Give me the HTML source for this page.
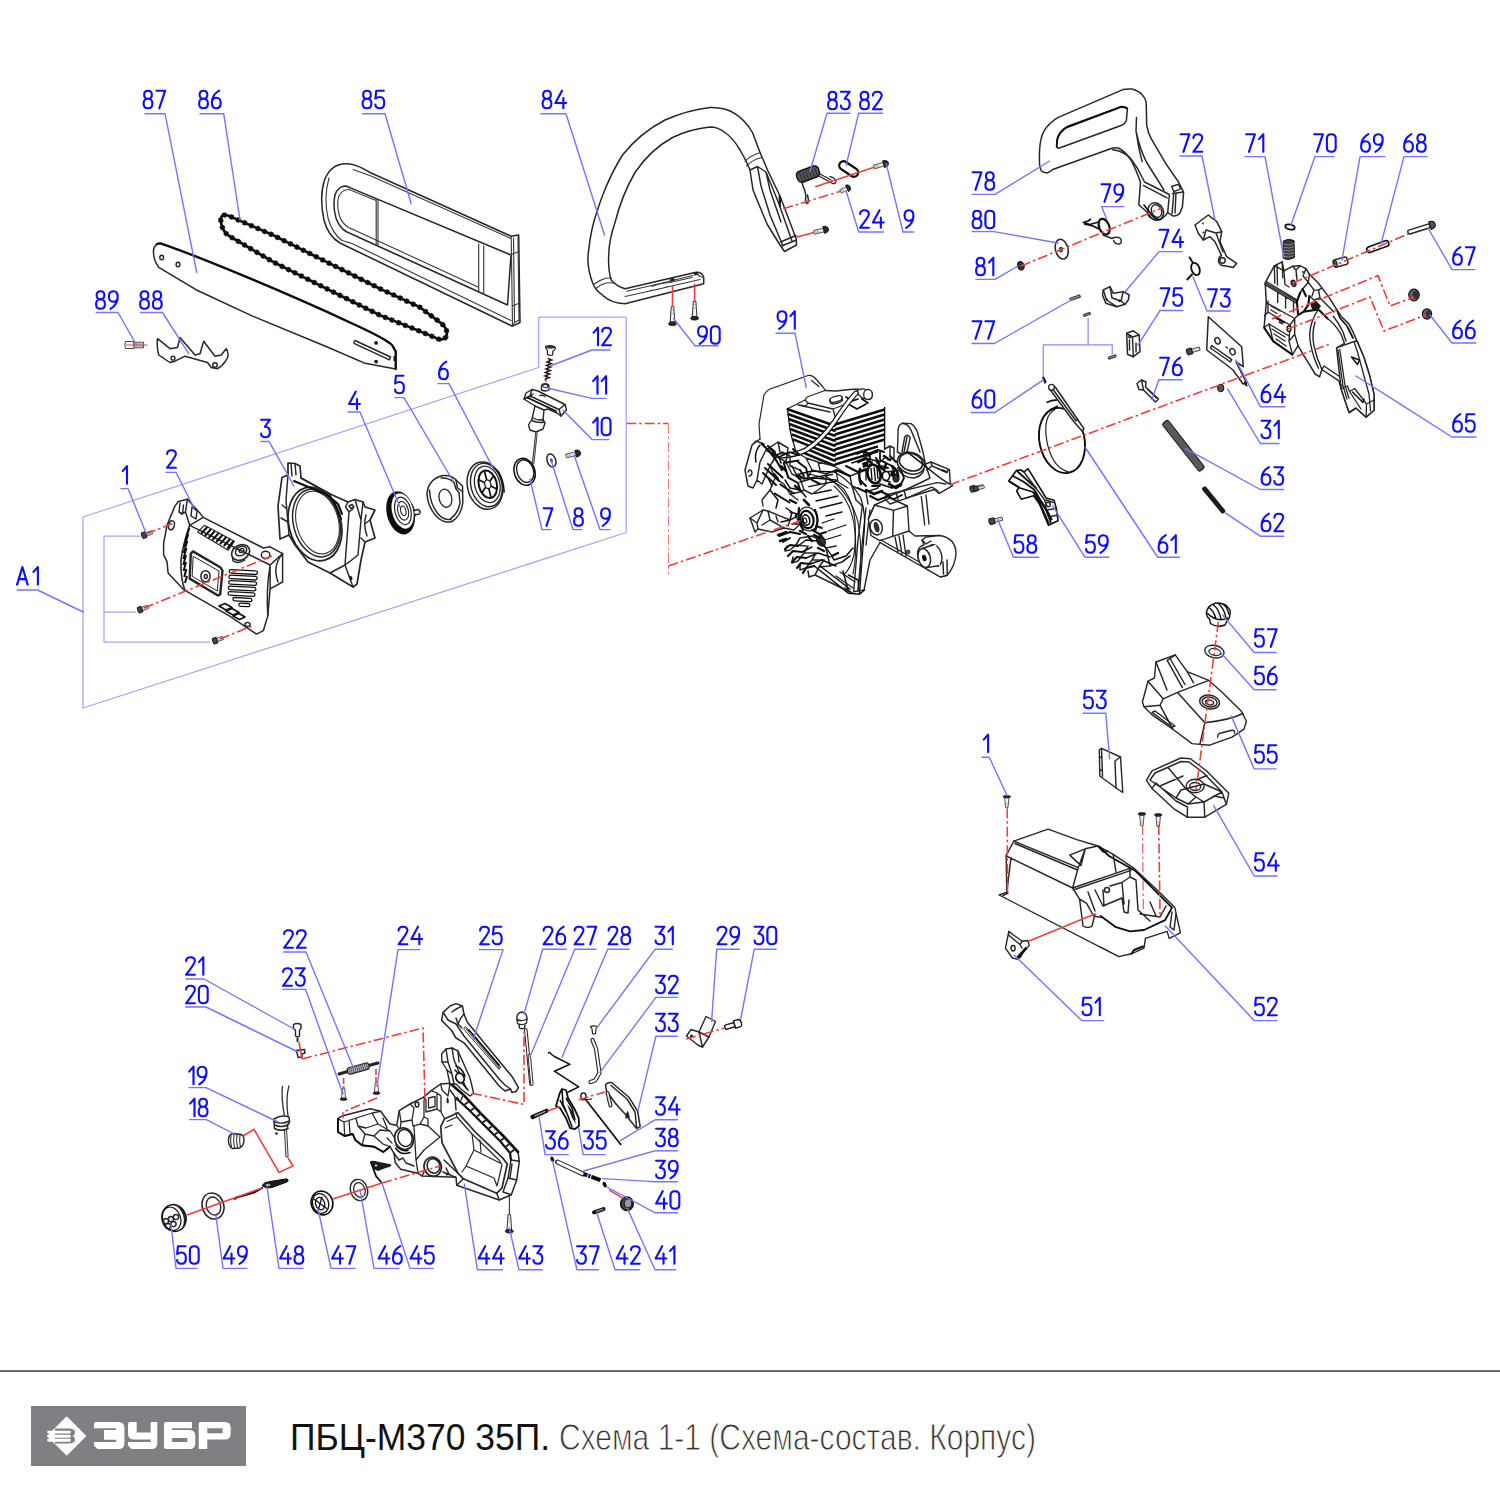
<!DOCTYPE html>
<html><head><meta charset="utf-8"><title>ПБЦ-М370 35П</title>
<style>
html,body{margin:0;padding:0;background:#fff;}
body{width:1500px;height:1500px;overflow:hidden;font-family:"Liberation Sans",sans-serif;}
svg{display:block;position:absolute;left:0;top:0;}
.dg path{vector-effect:non-scaling-stroke;fill:none;stroke:#0a0aff;stroke-linecap:round;stroke-linejoin:round;}
.ld{fill:none;stroke:#7474ff;stroke-width:1.4;stroke-linecap:round;stroke-linejoin:round;}
.ld2{fill:none;stroke:#a6a2ff;stroke-width:1.25;stroke-linejoin:round;}
.k{fill:none;stroke:#262626;stroke-width:1.45;stroke-linecap:round;stroke-linejoin:round;}
.kt{fill:none;stroke:#3a3a3a;stroke-width:1.15;stroke-linecap:round;stroke-linejoin:round;}
.kb{fill:none;stroke:#111;stroke-width:1.8;stroke-linecap:round;stroke-linejoin:round;}
.w{fill:#fff;stroke:#262626;stroke-width:1.5;stroke-linecap:round;stroke-linejoin:round;}
.f{fill:#1a1a1a;stroke:none;}
.r{fill:none;stroke:#f43c3c;stroke-width:1.6;stroke-dasharray:10 3 2.5 3;}
.rs{fill:none;stroke:#f43c3c;stroke-width:1.6;}
</style></head>
<body>
<svg width="1500" height="1500" viewBox="0 0 1500 1500">
<!-- 01_defs.svg -->
<defs>
<!-- small screw: shaft from x=0..10, head dome at 10..14 -->
<g id="scr">
<path d="M0,-1.9 H10.5 V1.9 H0 Z" fill="#e4e4e4" stroke="#444" stroke-width="0.8"/>
<path d="M2,-1.9 V1.9 M4,-1.9 V1.9" stroke="#777" stroke-width="0.5" fill="none"/>
<path d="M10,-3.6 Q15,-3.4 15,0 Q15,3.400 10,3.600 Z" fill="#2a2a2a" stroke="#111" stroke-width="0.8"/>
</g>
<!-- hex-head small bolt: head at left (dark), shaft right -->
<g id="hx">
<path d="M0,-1.7 H8 V1.7 H0 Z" fill="#ddd" stroke="#333" stroke-width="0.8"/>
<path d="M-5,-3 H0 V3 H-5 Q-6.5,0 -5,-3 Z" fill="#444" stroke="#111" stroke-width="0.9"/>
</g>
<g id="scr2">
<path d="M0,-1.300 L14,-2.300 L14,2.300 L0,1.300 Q-1,0 0,-1.300 Z" fill="#f4f4f4" stroke="#333" stroke-width="1"/>
<path d="M3,-1.400 V1.400 M6,-1.700 V1.700" stroke="#888" stroke-width="0.600" fill="none"/>
<ellipse cx="15.500" cy="0" rx="1.700" ry="4" fill="#2a2a2a" stroke="#111" stroke-width="0.800"/>
</g>
</defs>

<defs><filter id="soft" filterUnits="userSpaceOnUse" x="0" y="0" width="1500" height="1365"><feGaussianBlur stdDeviation="0.55"/></filter></defs>
<g filter="url(#soft)">
<!-- 10_topleft.svg -->
<g id="topleft">
<!-- guide bar 87 -->
<path class="w" d="M160.5,243.4 C200,257 290,294 364,329 Q385,339 392,345 L395.7,351.3 L395.7,369 L364,362.9 L326.7,346.7 L252,315.9 L196,289.7 L158.7,267.3 Q153,260 153.5,250 Q155,243 160.5,243.4 Z"/>
<path class="kb" d="M157,244 Q159,243 160.5,243.4 C200,257 290,294 364,329 Q385,339 392,345 L395.7,351.3 L395.7,369" style="stroke-width:2.300"/>
<ellipse class="k" cx="161.7" cy="257.5" rx="1.900" ry="2.300"/><ellipse class="k" cx="178" cy="264.5" rx="1.900" ry="2.300"/>
<path class="k" d="M355,340.500 L390.500,357 L389.500,359.800 L354,343.300 Q353.500,341.500 355,340.500 Z"/>
<circle class="f" cx="376.100" cy="342.900" r="1.900"/><circle class="f" cx="376.100" cy="361.600" r="1.900"/>
<path class="f" d="M393.500,356 h2.200 v5 h-2.200 z"/>

<!-- chain 86 -->
<g fill="none" stroke="#111" stroke-linejoin="round">
<path d="M221,222 Q219.500,213.500 228,215.5 L273.300,235.300 L326.700,262 L380,288.700 L420,307.300 L441.300,323.300 Q449,330 446,337 Q442,341.500 436,338 L420,331.300 L380,315.300 L326.700,288.700 L273.300,262 L228,235.300 Q222,230 221,222 Z" stroke-width="2.800"/>
<path d="M221,222 Q219.500,213.500 228,215.5 L273.300,235.300 L326.700,262 L380,288.700 L420,307.300 L441.300,323.300 Q449,330 446,337 Q442,341.500 436,338 L420,331.300 L380,315.300 L326.700,288.700 L273.300,262 L228,235.300 Q222,230 221,222 Z" stroke-width="5" stroke-dasharray="3.600 3.600"/>
</g>

<!-- scabbard 85 -->
<path class="w" d="M347.5,163.7 Q331,163 324.5,180 Q319,197 324,220 Q328,236 340,243 L512.5,326.2 L520,322.5 L518.7,235 L511.2,236.2 L370,172.5 Q356,164 347.5,163.7 Z"/>
<path class="w" d="M346,186 Q338,186 335,195 Q332.5,206 336,218 Q339,227 346,231.5 L507.5,305 L511,255 Z"/>
<path class="kt" d="M349,189.5 Q341.5,189.5 338.5,197 Q336.5,206 339.5,216 Q342,223.5 348.5,227.5 L376,240 L478,287"/>
<path class="kt" d="M376.2,198.7 V245 M378,199.5 V245.8 M478.7,243.7 V292 M483.7,245.8 V294.2 M349,189.500 L376,200.500"/>
<path class="kt" d="M353,169.500 L371,176 L511,238.500 M342,240.500 L352,243.500 L511,320.500 M511.2,236.2 L512.5,326.2 M513.5,238 L514.5,322 M518,237 L519,321 M511.5,254.5 L518.8,251.5 M512.3,306 L519.6,303 M512.500,326.200 L514.500,322.500 L520,319.500"/>
<path class="kt" d="M329,178 Q323.500,197 328,218 Q332,233 342,240.500"/>

<!-- handle 84 -->
<path class="w" d="M592.5,282.5 Q586,265 588.7,250 Q591,228 597.5,210 Q607,180 622.5,155 Q640,133 665,120 Q688,110 710,107.5 Q725,107 735,113.7 Q746,121 752.5,132.5 L760,152.5 L767.5,170 L780,196 L796.2,238.7 L796.5,245 L784.5,251.5 L780,245 L767,224 L753,190 L750,170 L746.2,161.2 L740,150 Q733,138 725,132.5 Q718,127 710,127 Q690,129 672.5,137.5 Q650,150 635,172.5 Q622,195 615,222.5 Q609,240 608.7,255 Q608,270 611.2,280 Q616,286 625,288.7 L695,272.5 Q702,271.5 703.7,277.5 L703.7,283.7 L625,303.7 Q610,303 602.5,295 Q595,290 592.5,282.5 Z"/>
<path class="kt" d="M593.5,284.5 Q602,277.5 611.5,278 M596,288.5 Q604,281.5 613.5,283 M745,161.5 Q750,155.5 760.5,152.5 M746.5,166 Q753,159 762.5,157.5 M625,296.5 L650,291 L700,279.5 M652,286.5 Q660,283 670,282.5 L692,277.5 M650,290.5 Q658,290 668,286.5"/>
<path class="k" d="M750,170 L757.5,166.5 L766,172 L779,204 L792,241 M757.5,166.5 L761,186 L770,215 L783,246 M766,172 L770,190 L781,222 M779,204 L781.5,199 M780.5,242 L796,235.5 M781.5,246 L796.5,240"/>
<path class="f" d="M778.5,196 L780.5,196 L781,207 L779,207 Z"/>
<path class="kt" d="M626.700,291.300 L660,283.500 L693,275.500 M670,279.500 L671,282 M696,272.500 L700,276.500 L703.700,277.500"/>
<path class="f" d="M670.500,278.800 l3.600,-0.900 l0.700,2.600 l-3.600,0.900 z M693.500,272.800 l3.400,-0.800 l0.900,2.800 l-3.400,0.800 z"/>
</g>

<!-- 11_handleparts.svg -->
<g id="handleparts">
<!-- 88 bumper spike -->
<path class="w" d="M157.5,338.7 L170,348.7 L177.5,347.5 L180,337.5 L195,355 L200,353.7 L203.7,341.2 L215,356.2 L221.2,355 L226.2,348.7 Q229,353 227.5,357.5 Q224,365 217.5,368.7 L211.2,367.5 L207.5,362.5 L185,356.2 L175,361.2 L170,362.5 L158.7,355 Q156.500,347 157.5,338.7 Z"/>
<circle class="k" cx="173" cy="358.2" r="1.900"/><circle class="k" cx="215" cy="365" r="2.300"/>
<!-- 89 bolt -->
<path d="M125.5,341.5 H134 V348.500 H125.5 Q124,345 125.5,341.5 Z" fill="#fff" stroke="#333" stroke-width="0.9"/>
<path d="M134,342.200 H143.500 V347.800 H134 Z" fill="#ddd" stroke="#333" stroke-width="0.8"/>
<path d="M136,342.200 V347.800 M138,342.200 V347.800 M140,342.200 V347.800 M142,342.200 V347.800" stroke="#666" stroke-width="0.600"/>
<path class="rs" d="M126,345 H147.5" style="stroke-width:1"/>
<!-- 90 screws -->
<g transform="translate(672.5,307) rotate(90) scale(1.080,1)"><use href="#scr2"/></g>
<g transform="translate(694.6,301.500) rotate(90) scale(1.080,1)"><use href="#scr2"/></g>
<path class="rs" d="M672.5,286 V307 M694.6,283.7 V301"/>
<!-- 83 spring -->
<path d="M796.7,176.500 Q795.500,172.500 800,171 L813.500,166 Q817.500,165.300 818.500,169 L819.500,172.500 Q820,175.500 816.500,177 L803.500,182 Q799.500,183 798,180 Z" fill="#555" stroke="#111" stroke-width="1.400"/>
<path d="M799.5,173 L803,182 M802.500,172 L806,181 M805.500,171 L809,180 M808.500,170 L812,179 M811.500,169 L815,177.800 M814.500,168 L817.800,176.500" stroke="#222" stroke-width="0.900" fill="none"/>
<path class="k" d="M802,182.7 Q803,187 804.7,190 Q806.500,196 805.500,200.500 Q806,204.500 808,203 Q809,199 807.500,195" style="stroke-width:1.500"/>
<path class="k" d="M818,175.500 L832.7,183.500 Q836,184 836,181 Q834,177.500 830,176.700 M820,174 L831,180" style="stroke-width:1.300"/>
<!-- 82 oval ring -->
<g transform="translate(848.700,169) rotate(34)"><rect x="-10.500" y="-4.300" width="21" height="8.600" rx="4.300" fill="none" stroke="#111" stroke-width="2.300"/></g>
<!-- screws 9, 24, lower -->
<g transform="translate(874,167) rotate(-16)"><use href="#scr"/></g>
<g transform="translate(840.500,191.500) rotate(-25) scale(0.72,1)"><use href="#scr"/></g>
<g transform="translate(814,232.400) rotate(-14)"><use href="#scr"/></g>
</g>

<!-- 12_guard.svg -->
<g id="guard">
<!-- 78 hand guard -->
<path class="w" d="M1039.6,165 Q1039,152 1040.2,143.5 Q1041.500,135 1044.7,129.9 Q1050,122 1058.3,117.4 L1122.9,89.6 Q1128,88.500 1132,89.1 Q1138,90.500 1142.2,94.7 Q1145.500,98 1146.2,102.7 L1146.7,125.3 Q1148,133 1151.3,138.9 L1166,163.9 L1178.5,182 L1183.6,192.2 L1182.4,206.9 L1179.6,213.7 Q1176,216.500 1172.8,216 L1167.7,212.6 Q1163,220 1156,220 Q1149,219 1147,212 L1138.8,204.7 L1140.5,182 L1136.5,171.8 L1132,161.6 Q1126,152 1118.4,148 L1112.7,148 L1052.7,169.5 Q1049.500,172.500 1047,172.9 Q1043,172.500 1041.3,170.7 Q1040,168 1039.6,165 Z"/>
<path class="w" d="M1056.6,146.9 Q1056.500,141 1057.8,136.7 Q1061,130 1067.4,126.5 L1120.7,106.6 Q1125,106.200 1127.5,108.3 L1126.3,120.8 Q1125,124 1121.8,125.3 L1059.5,148 Q1057.500,148.500 1056.6,146.9 Z"/>
<path class="kb" d="M1056.8,146.500 Q1056.500,141 1058,136.9 Q1061.200,130.500 1067.6,127 L1120.7,107.100 Q1124.500,106.800 1127,108.500" style="stroke-width:1.900"/>
<path class="k" d="M1136.5,117.4 L1136,131 L1138.8,148 L1142.2,161.6 M1112.7,149.7 Q1124,151 1131,159 Q1138,168 1142.2,177.5 L1144.5,182 L1169.4,194.5 L1167.7,212.6 M1143.3,185.4 L1167.1,197.9 M1136,131 Q1140,150 1147,163 L1164,190 M1171.7,186.5 L1178.5,184.3 L1180.7,188.8 L1173.9,191.6 Z M1172.500,193.500 L1183.200,192 M1173.900,191.600 L1172,214 M1176,192.800 L1175,213"/>
<ellipse class="w" cx="1155.8" cy="211.5" rx="7.500" ry="9" transform="rotate(-25 1155.8 211.5)" style="stroke-width:1.500"/>
<ellipse class="k" cx="1156.500" cy="211" rx="5" ry="6.500" transform="rotate(-25 1156.500 211)"/>
<path class="kb" d="M1144,205 L1151,214 Q1155,220 1161,219.500" style="stroke-width:1.600"/>
<!-- 81 nut -->
<ellipse cx="1020.8" cy="265.8" rx="3.300" ry="4.300" fill="#333" stroke="#111" stroke-width="1" transform="rotate(-20 1020.8 265.8)"/>
<!-- 80 washer -->
<ellipse class="w" cx="1061.7" cy="249.2" rx="6.300" ry="10" transform="rotate(-14 1061.7 249.2)"/>
<ellipse class="k" cx="1061" cy="249.500" rx="1.300" ry="2" />
<!-- 79 -->
<ellipse cx="1104.2" cy="226.7" rx="5" ry="8.200" fill="none" stroke="#111" stroke-width="2.200" transform="rotate(-22 1104.2 226.7)"/>
<path d="M1098.500,222 L1090,224.500 L1083.300,222.500 L1088,221 L1091,219 M1084,224 L1093,226 L1099,229" fill="none" stroke="#111" stroke-width="1.700" stroke-linejoin="round"/>
<path class="k" d="M1103,235 L1112,238.500 Q1117,236 1120.500,238.500 Q1122.500,242 1119.500,244 Q1115,244.500 1113.500,240.500" style="stroke-width:1.400"/>
<!-- 74 -->
<path class="w" d="M1103.300,290 L1110,286.700 L1113.300,293.300 L1123.300,291.700 L1129.200,295 L1128.300,300 L1125,304.200 L1116.700,306.700 L1105.800,303.300 L1102.500,295 Z"/>
<path class="k" d="M1110,286.700 L1112,298 L1121,301 L1125,304.200 M1103.300,290 L1106.500,300 L1116.700,306.700 M1121,301 L1123.300,291.700"/>
<circle class="f" cx="1107" cy="299.500" r="1"/><circle class="f" cx="1119.500" cy="301" r="1.200"/>
<!-- 77 + pins -->
<path d="M1070.500,300.700 L1080.500,297.200 L1079.700,294.800 L1069.700,298.300 Z" fill="#888" stroke="#222" stroke-width="0.900"/>
<path d="M1084,316.600 L1090.600,314.300 L1090,312.200 L1083.400,314.500 Z" fill="#888" stroke="#222" stroke-width="0.900"/>
<path d="M1108.800,359.300 L1116.200,356.800 L1115.600,354.700 L1108.200,357.200 Z" fill="#888" stroke="#222" stroke-width="0.900"/>
<path d="M1043.700,378 L1045.800,382.500" stroke="#222" stroke-width="1.800"/>
<!-- 75 block -->
<path class="w" d="M1126.7,333.3 L1133.3,330.8 L1139.2,335 L1140,351.7 L1133.300,356.7 L1127.5,354.200 Z"/>
<path class="k" d="M1126.700,333.300 L1132.500,337 L1139.200,335 M1132.500,337 L1133.300,356.700 M1136,343 V352 M1129.500,340 V350"/>
<circle class="k" cx="1130" cy="336.500" r="1.200"/>
<!-- 73 spring -->
<ellipse cx="1195.500" cy="269" rx="4" ry="6.400" fill="none" stroke="#111" stroke-width="1.800" transform="rotate(-20 1195.500 269)"/>
<path d="M1189.200,256.700 L1193,263 M1192.500,274 L1186.700,280" stroke="#111" stroke-width="1.800" fill="none"/>
<!-- 72 bracket -->
<path class="w" d="M1195,225 L1208.3,215 L1216.7,221.7 L1221.7,231.7 L1220,241.700 L1226.700,256.700 L1236.700,263.300 L1233.300,267.500 L1225,265.800 Q1219,266 1218.500,261 Q1218.500,257 1221.500,255.500 L1215,241.700 L1210,236.700 L1203.300,240 L1198.300,233.300 Z"/>
<path class="k" d="M1203.300,240 L1206,230 L1216,233 L1221.700,231.700 M1216,233 L1223,252"/>
<circle class="k" cx="1222.500" cy="260.500" r="2.700"/>
<circle class="f" cx="1203" cy="223.500" r="0.900"/><circle class="f" cx="1203.500" cy="232.500" r="0.900"/>
<!-- 76 lever -->
<path class="w" d="M1137,383.500 L1141.500,380 L1146,382 L1145.500,387 L1158.500,399 L1155.500,402 L1143.500,390 L1139,389.500 Z"/>
<path class="k" d="M1141.500,380 L1143.500,390 M1147,388.500 L1156.500,398"/>
<!-- screw near 76 -->
<g transform="translate(1192,350.800) rotate(-16)"><use href="#hx"/></g>
<!-- 64 plate -->
<path class="w" d="M1208.300,316.700 L1241.700,346.700 L1243.300,366.700 L1236,362 L1241,372 L1246.300,382.200 L1243,384 L1233,370 L1228,366 L1206.700,350 Z"/>
<ellipse class="k" cx="1217.500" cy="340.800" rx="2.500" ry="3.300" transform="rotate(-25 1217.500 340.800)"/>
<ellipse class="k" cx="1232.500" cy="351.700" rx="2.500" ry="3.300" transform="rotate(-25 1232.500 351.700)"/>
<path class="k" d="M1211.700,345.500 L1231.700,359.700 L1230.500,362 L1210.500,348 Z M1226,347 l1.500,1"/>
<path class="f" d="M1244,381 L1247,383 L1247.500,387 L1244.500,385 Z"/>
<!-- 31 nut -->
<ellipse cx="1220.700" cy="388" rx="3.200" ry="3.800" fill="#555" stroke="#111" stroke-width="1"/>
</g>

<!-- 13_brake.svg -->
<g id="brake">
<!-- 65 brake cover -->
<path class="w" d="M1265.200,282.800 L1274.300,265.800 L1282.200,261.800 L1283.900,270.900 L1292.400,266.300 L1300.300,265.800 L1306,268.600 L1309.400,274.300 L1318.500,283.300 L1321.900,287.900 L1328.700,296.900 L1336.600,309.400 L1341.100,316.200 L1349.100,324.100 L1353.600,333.200 L1357,341.100 L1363.800,357 L1369.500,375.100 L1374,394.400 L1374,410.300 L1366.100,417.100 L1355.900,408 L1349.100,412.500 L1344.500,398.900 L1341.100,388.700 L1338.900,380.800 L1321.900,369.500 L1319.600,376.800 L1315.100,374 L1308.300,362.700 L1302.600,353.600 L1298.100,345.700 L1292.400,354.700 L1273.100,341.100 L1264.100,327.500 L1266.300,302.600 Z" style="stroke-width:1.500"/>
<!-- top frame -->
<path class="k" d="M1265.200,282.800 L1296.900,301.500 L1300.300,292.400 M1266.300,281.500 L1296.900,299.800 M1265,284.600 L1296.300,303.200 M1274.300,265.800 L1274.800,283.300 M1277,264.500 L1277.500,285 M1282.200,261.800 L1282.800,277.700 M1274.300,265.800 L1279,268 L1283.900,270.900 M1277.700,292.400 V302.600 M1285.600,297 V308 M1293.500,301.500 V312" style="stroke-width:1.400"/>
<path class="k" d="M1283.900,270.900 L1285,284.500 L1289,287 M1292.400,266.300 L1296,270 L1300.300,265.800 M1296,270 L1297,280 M1306,268.600 L1303,276 L1308.300,282.200 L1302.600,289 L1300.300,292.400 M1309.400,274.300 L1308.300,282.200 L1314,290 L1318.500,290.100 L1321.900,287.900 M1314,290 L1312,296" style="stroke-width:1.400"/>
<ellipse cx="1293.500" cy="283.300" rx="2.300" ry="3.300" fill="#555" stroke="#111" stroke-width="1.200" transform="rotate(-20 1293.500 283.300)"/>
<circle class="f" cx="1296.500" cy="275.500" r="0.900"/><circle class="f" cx="1303" cy="272" r="0.900"/>
<!-- dark lever -->
<path class="kb" d="M1300.300,292.400 L1296.900,301.500 L1298.100,315.100 L1303.700,311.700 L1308.300,304.900 L1309.400,296 M1303.700,311.700 L1318.500,309.400 L1327.500,318.500 M1302.600,289 L1306,296" style="stroke-width:2.100"/>
<path class="f" d="M1310,303 L1316,300.500 L1321,306 L1318.500,309.400 L1312,309.500 Z"/>
<path class="k" d="M1309.400,296 L1314,300 L1320,298 L1328,306 L1334,312 M1320,298 L1318.500,290.100"/>
<!-- mid-left blocks -->
<path class="k" d="M1266.300,302.600 L1294.700,318.500 L1298.100,315.100 M1268,301 L1268,312 L1264.500,316 M1268,312 L1290,325 L1294.700,318.500 M1271,306 L1280,311 M1271,310 L1277,313.500 M1290,325 L1289,341.100 L1292.400,354.700 M1264.100,327.500 L1269,324 L1289,336 M1269,324 L1273.100,341.100 M1272,329 L1285,337 M1274,334 L1285,341 M1276,339 L1286,346 M1294.700,318.500 L1294.700,334.300 L1298.100,345.700 M1289,341.100 L1294.700,334.300" style="stroke-width:1.400"/>
<path class="kb" d="M1275,317.500 L1284,322.500 M1264.100,327.500 L1273.100,341.100 L1292.400,354.700" style="stroke-width:1.900"/>
<ellipse cx="1289" cy="328.700" rx="2" ry="2.700" fill="#fff" stroke="#111" stroke-width="1.300"/>
<path class="f" d="M1279,321 l4,2.200 l-0.500,1.500 l-4,-2.200 z"/>
<!-- drum circle -->
<path class="k" d="M1311.700,323 Q1308.500,333 1310.500,343.400 Q1313,357 1318.500,368.300 M1318.500,309.400 Q1314,315 1311.700,323 M1315,322 Q1311.500,334 1314,346 Q1316.500,358 1321.900,369.500" style="stroke-width:1.400"/>
<path class="k" d="M1327.500,318.500 Q1335,324 1341.100,334.300 L1344.500,343.400 M1333.200,316.200 Q1338,322 1343,332 L1346,341 M1344.500,343.400 L1336.600,347.900 M1321.900,369.500 L1324,366 L1339.500,376.500" style="stroke-width:1.400"/>
<path class="kb" d="M1336.600,309.400 L1340,318 L1347,326 L1353,338" style="stroke-width:1.700"/>
<!-- lower block -->
<path class="w" d="M1336.600,347.900 L1354,341.500 L1357,341.100 L1363.800,357 L1369.500,375.100 L1374,394.400 L1374,410.300 L1366.100,417.100 L1355.900,408 L1349.100,412.500 L1344.500,398.900 L1341.100,388.700 Z" style="stroke-width:1.500"/>
<path class="k" d="M1338,350 L1343,386 L1347,399 M1339.800,349.300 L1345,385.500 L1349,398 M1354,341.500 L1357.500,352 L1364,376 L1369,394 L1370.500,411 M1341.100,388.700 L1347.500,386 L1349.500,391.500 L1361,409 M1349.500,391.500 L1354.700,388.500 L1366.500,404 L1366.100,417.100 M1343,386 L1340,384.500 M1366.500,404 L1374,400" style="stroke-width:1.300"/>
<path class="kb" d="M1351.500,357 L1357.500,364.500 L1359.500,360 Z M1352.500,392 L1363,402.500 L1364,399" style="stroke-width:1.500"/>
<!-- 70 ring -->
<ellipse cx="1290" cy="227" rx="4.800" ry="2.400" fill="none" stroke="#111" stroke-width="1.800" transform="rotate(12 1290 227)"/>
<!-- 71 spring -->
<path d="M1283.300,241 Q1288,238 1294,240.500 L1294.500,257.500 Q1289,261 1283,258.500 Z" fill="#3a3a3a" stroke="#111" stroke-width="1"/>
<path d="M1283.500,244 Q1289,246.500 1294.300,243.500 M1283.500,247 Q1289,249.500 1294.300,246.500 M1283.400,250 Q1289,252.500 1294.400,249.500 M1283.300,253 Q1289,255.500 1294.400,252.500 M1283.200,256 Q1289,258.500 1294.500,255.500" stroke="#aaa" stroke-width="0.700" fill="none"/>
<!-- 69 bushing -->
<g transform="translate(1333.500,264) rotate(-15)"><rect x="0" y="-3.800" width="14.500" height="7.600" rx="2.500" class="w"/><ellipse cx="2" cy="0" rx="1.800" ry="3.200" fill="#555" stroke="#111" stroke-width="0.800"/></g>
<!-- 68 pin -->
<g transform="translate(1367,250.500) rotate(-20)"><rect x="0" y="-2.900" width="23" height="5.800" rx="2.600" fill="#fff" stroke="#111" stroke-width="1.600"/></g>
<!-- 67 bolt -->
<g transform="translate(1408,232.500) rotate(-17.500)"><rect x="0" y="-2" width="23" height="4" rx="1.500" class="w"/><path d="M23,-4 Q28.500,-4 28.500,0 Q28.500,4 23,4 Z" fill="#555" stroke="#111" stroke-width="1"/></g>
<!-- 66 nuts -->
<ellipse cx="1414" cy="295" rx="5.200" ry="5.800" fill="#666" stroke="#111" stroke-width="1.200"/>
<ellipse cx="1415.500" cy="295" rx="3" ry="4" fill="#333"/>
<ellipse cx="1427" cy="314" rx="4.600" ry="5.200" fill="#666" stroke="#111" stroke-width="1.200"/>
<ellipse cx="1428.300" cy="314" rx="2.600" ry="3.500" fill="#333"/>
</g>

<!-- 14_band.svg -->
<g id="band">
<!-- 61 brake band -->
<g transform="rotate(-12 1062 440.500)">
<ellipse cx="1062" cy="440.500" rx="22.500" ry="33" fill="none" stroke="#111" stroke-width="1.900"/>
<path d="M1062,408.500 Q1047.500,412 1047,440.500 Q1047.500,466 1062,472.500" fill="none" stroke="#222" stroke-width="1.200"/>
</g>
<path class="w" d="M1049.500,388.700 L1055.200,387 L1077.800,419.800 L1084,428.900 L1082,431 L1073.300,421 Z" style="stroke-width:1.500"/>
<path class="k" d="M1052.300,388.500 L1075.600,420.300 M1075.500,420.800 L1077.900,419.600"/>
<circle class="w" cx="1051.500" cy="387.300" r="2.900" style="stroke-width:1.400"/>
<path d="M1047.200,402.300 Q1052,400 1056.300,400.200 M1050.600,409.700 L1057.400,406.300" fill="none" stroke="#111" stroke-width="1.700" stroke-linecap="round"/>
<!-- 60 pin -->
<path d="M1043.300,377.500 L1045.200,382.500" stroke="#222" stroke-width="2.200" stroke-linecap="round"/>
<!-- 59 lever -->
<path d="M1008.700,481 L1016.600,470.300 L1021,470 L1024,472 L1028,468.600 L1046.100,498 L1054,500.300 L1056.300,508.200 L1058,520.700 L1048.400,525.200 L1039.300,503.700 L1033.600,495.800 L1021.200,499.200 L1016.600,491.200 L1019,487.500 Z" fill="#fff" stroke="#111" stroke-width="1.600" stroke-linejoin="round"/>
<path d="M1009.500,481.500 L1020,488 L1033,492 L1040,503 L1049,524 M1013,476 L1024,482 L1034.500,490 L1046,510 L1051,523 M1017,471 L1027,480 L1036.500,488.500 M1034,492 Q1042,500 1052,520" fill="none" stroke="#111" stroke-width="1.800" stroke-linejoin="round"/>
<path d="M1024,472 L1044,499 L1047,506 M1046,500 L1053,502.500 M1047,510 L1056,508.500 M1049,517 L1057.500,515" class="k"/>
<circle class="k" cx="1048" cy="504.500" r="2.300"/>
<!-- screws -->
<g transform="translate(975.500,488.200) rotate(-14)"><use href="#hx"/></g>
<g transform="translate(994.500,520.600) rotate(-14)"><use href="#hx"/></g>
<!-- 63 spring -->
<g transform="translate(1164.700,421.800) rotate(52)">
<rect x="0" y="-3.600" width="60.700" height="7.200" rx="2" fill="#4a4a4a" stroke="#111" stroke-width="1"/>
<path d="M2,-3.600 V3.600 M4,-3.600 V3.600 M6,-3.600 V3.600 M8,-3.600 V3.600 M10,-3.600 V3.600 M12,-3.600 V3.600 M14,-3.600 V3.600 M16,-3.600 V3.600 M18,-3.600 V3.600 M20,-3.600 V3.600 M22,-3.600 V3.600 M24,-3.600 V3.600 M26,-3.600 V3.600 M28,-3.600 V3.600 M30,-3.600 V3.600 M32,-3.600 V3.600 M34,-3.600 V3.600 M36,-3.600 V3.600 M38,-3.600 V3.600 M40,-3.600 V3.600 M42,-3.600 V3.600 M44,-3.600 V3.600 M46,-3.600 V3.600 M48,-3.600 V3.600 M50,-3.600 V3.600 M52,-3.600 V3.600 M54,-3.600 V3.600 M56,-3.600 V3.600 M58,-3.600 V3.600" stroke="#999" stroke-width="0.500"/>
</g>
<!-- 62 rod -->
<g transform="translate(1203.200,487.200) rotate(50.600)"><rect x="0" y="-2.400" width="33" height="4.800" rx="1.500" fill="#1a1a1a"/></g>
</g>

<!-- 15_starter.svg -->
<g id="starter">
<!-- 2 starter cover -->
<path class="w" d="M163.600,543.400 L167,525.300 L174.900,506.100 L178.300,501.500 L187.400,499.300 L199.800,512.900 L203.200,517.400 L263.300,548 L270.100,546.800 L282.600,553.600 L282.600,582 L270.100,588.800 L267.800,615.900 L263.300,630.700 L256.500,634.100 L229.300,615.900 L184,589.900 L168.100,572.900 L167,561.600 L163.600,554.800 Z" style="stroke-width:1.500"/>
<path class="k" d="M189.700,525.300 Q182.500,546 181,560 Q180.300,578 185.100,591" style="stroke-width:1.600"/>
<path class="k" d="M187.400,499.300 L185.500,512 L189.700,525.300 L203.200,517.400 M189.700,525.300 L270.100,565 L282.600,553.600 M270.100,565 L270.100,588.800 M270.100,565 Q266,590 267.800,615.900 M180,503 L179,512 L182.500,514 L183.500,505 M192,507 L191,516 L196,519 L197,511 Z M185.500,512 L181,514"/>
<ellipse class="k" cx="171.500" cy="525.300" rx="2.800" ry="4.600" transform="rotate(15 171.500 525.300)"/>
<path d="M189.300,528 L185.500,540 M188.300,534 L184.300,547 M187.300,541 L183.600,553 M186.500,548 L183.300,559 M186,555 L183.300,565 M186,562 L183.600,571 M186.300,569 L184.300,577 M187,576 L185,583" stroke="#111" stroke-width="2" fill="none"/>
<!-- top grille -->
<path class="k" d="M197.600,532.100 L204.400,525.300 L234.400,541.200 L228.200,550.200 Z" style="stroke-width:1.200"/>
<path d="M201.500,533.500 L206.800,527.500 M205.300,535.500 L210.600,529.500 M209.100,537.500 L214.400,531.500 M212.900,539.500 L218.200,533.500 M216.700,541.500 L222,535.500 M220.500,543.500 L225.800,537.500 M224.300,545.500 L229.600,539.500 M227.800,548 L232.800,541.800" stroke="#111" stroke-width="2" fill="none" stroke-linecap="round"/>
<!-- window -->
<path class="k" d="M190.800,553.600 L193,551.400 L220.200,567.200 L222.500,570.600 L220.200,594.400 L218,595.500 L189.700,578.600 Z" style="stroke-width:2.400"/>
<path class="k" d="M193.500,556.500 L219,571 L217.300,591 L192.500,576.500 Z" style="stroke-width:1"/>
<ellipse class="k" cx="205.500" cy="576.300" rx="4.600" ry="5.600" style="stroke-width:1.500"/><ellipse class="k" cx="205.800" cy="576.500" rx="1.500" ry="2"/>
<!-- knob -->
<ellipse class="k" cx="240.600" cy="552.500" rx="9.500" ry="7.300" transform="rotate(-28 240.600 552.500)" style="stroke-width:1.600"/>
<ellipse class="k" cx="241" cy="551" rx="6" ry="4.300" transform="rotate(-28 241 551)" style="stroke-width:1.500"/>
<ellipse class="k" cx="241.500" cy="550.500" rx="2.500" ry="1.800" transform="rotate(-28 241.500 550.500)"/>
<path class="k" d="M232.500,557 L233,561 Q238,564.500 245,560"/>
<ellipse class="k" cx="265.600" cy="554.800" rx="4.300" ry="3.600"/>
<!-- lower grille -->
<g fill="none" stroke="#111" stroke-width="1.300">
<rect x="229.300" y="569.500" width="28.300" height="3.600" rx="1.800" transform="rotate(3 229.300 569.500)"/>
<rect x="229" y="575" width="28.300" height="3.600" rx="1.800" transform="rotate(3 229 575)"/>
<rect x="228.700" y="580.500" width="28" height="3.600" rx="1.800" transform="rotate(3 228.700 580.500)"/>
<rect x="228.400" y="586" width="27.600" height="3.600" rx="1.800" transform="rotate(3 228.400 586)"/>
<rect x="228.100" y="591.500" width="27" height="3.600" rx="1.800" transform="rotate(3 228.100 591.500)"/>
<rect x="233" y="597.400" width="19" height="3.400" rx="1.700" transform="rotate(3 233 597.400)"/>
<rect x="239" y="603" width="11" height="3.200" rx="1.600" transform="rotate(3 239 603)"/>
</g>
<path d="M219,606 L225,603.500 L232,607.500 L226,610 Z M226,611 L232,608.500 L239,612.500 L233,615 Z M233,616 L239,613.500 L245,617 L239.500,619.500 Z" fill="none" stroke="#111" stroke-width="1.700" stroke-linejoin="round"/>
<ellipse class="k" cx="247.500" cy="624.500" rx="2.600" ry="2"/>
<path class="k" d="M282.600,553.600 Q272,566 278,582"/>
<!-- screws 1 -->
<g transform="translate(146,534.500) rotate(-20) scale(0.800,1)"><use href="#hx"/></g>
<g transform="translate(142,609) rotate(-20) scale(0.800,1)"><use href="#hx"/></g>
<g transform="translate(217,640) rotate(-20) scale(0.800,1)"><use href="#hx"/></g>

<!-- 3 fan housing -->
<path class="w" d="M288,475 L288,463 L295,463.500 L300,466 L301,478 L330,494 L348,502 L355,499.500 L363,502 L365,507 L375,510 L370,520 L375,538 L365,542 L361,560 L357,584 L353,587 L330,573 L308,562 L295,545 L289,535 L280,539 L278,506 L282,477.500 Z" style="stroke-width:1.700"/>
<path class="k" d="M288,475 L286,500 L289,535 M282,505 L287,509 M281,518 L288,522 M291,463.500 L292,476 M295,463.500 L296,475 M348,502 L345.500,507 L349,512 L353,509 M349,512 Q347,540 345,565 L353,587 M345,565 Q352,560 358,555 L361,520 L355,499.500 M363,502 L361,520 M366,515 Q363,525 367,536 M330,573 L345,565 M370,520 L366,523 M365,542 L361,538"/>
<ellipse class="w" cx="315" cy="524" rx="26" ry="37.500" transform="rotate(-15 315 524)" style="stroke-width:1.800"/>
<ellipse class="k" cx="316.500" cy="523" rx="23" ry="34.500" transform="rotate(-15 316.500 523)" style="stroke-width:1.500"/>
<ellipse class="kt" cx="317.500" cy="522.500" rx="21" ry="32" transform="rotate(-15 317.500 522.500)"/>
<path class="kb" d="M294,481 L330,496 L336,506 L341,519 M328,495.500 L338,504 L342,514" style="stroke-width:2.100"/>
<path class="k" d="M301,478 L330,494"/>
<ellipse cx="351" cy="578" rx="1.400" ry="2" fill="#111" transform="rotate(-20 351 578)"/>
<path class="k" d="M349,506 l3,-1.500 l2,2.500 l-3,1.500 z"/>
</g>

<!-- 16_starter2.svg -->
<g id="starter2">
<!-- 4 spring disc -->
<g transform="rotate(-14 400.600 512.800)">
<ellipse cx="400.600" cy="512.800" rx="13.800" ry="22" fill="#111"/>
<ellipse cx="403" cy="511.500" rx="10.500" ry="18" fill="#fff"/>
<ellipse cx="403.300" cy="511.500" rx="8" ry="14" fill="none" stroke="#222" stroke-width="1.200"/>
<ellipse cx="403.500" cy="511.500" rx="5.300" ry="9.500" fill="none" stroke="#222" stroke-width="1.100"/>
<ellipse cx="403.700" cy="511.500" rx="2.600" ry="4.800" fill="none" stroke="#222" stroke-width="1.100"/>
<path d="M413.500,507 Q415.500,512 414,520" fill="none" stroke="#222" stroke-width="1"/>
</g>
<path class="w" d="M414.500,510.500 L418,509.500 Q420.500,510.500 420,513 Q419,514.800 416.500,514.500 L414.800,514.300"/>
<!-- 5 disc -->
<path class="w" d="M443,475.500 Q452,475 456,480 L462.500,486 L462.800,503 Q461,516 452,521.500 Q444,524 436,516 Q427.500,506 427,494 Q428,479 443,475.500 Z" style="stroke-width:1.500"/>
<path class="k" d="M441,478 Q449,477.500 454,482.500 L456,489 L459,492.500 L460,503 Q458,514 450,519 M456,480 L457.500,488 L462.500,491.500 M429.500,490 Q430,504 438,514 Q444,520.500 451,519.500"/>
<ellipse class="k" cx="445.400" cy="498.200" rx="6.300" ry="9.200" transform="rotate(-14 445.400 498.200)" style="stroke-width:1.300"/>
<!-- 6 pulley -->
<g transform="rotate(-14 485 485.600)">
<ellipse cx="485" cy="485.600" rx="17.500" ry="24" class="w" style="stroke-width:1.500"/>
<ellipse cx="486.500" cy="485.300" rx="15.500" ry="22" class="k"/>
<ellipse cx="487.500" cy="485" rx="12.500" ry="18.500" class="k" style="stroke-width:1.300"/>
<ellipse cx="488" cy="485" rx="9" ry="14" fill="none" stroke="#111" stroke-width="2"/>
<path d="M488,471 V499 M480,478 L496,492 M480,492 L496,478" stroke="#111" stroke-width="1.700" fill="none"/>
<ellipse cx="488" cy="485" rx="3" ry="4.500" fill="#fff" stroke="#111" stroke-width="1.200"/>
<path d="M501,474 Q504.500,485 502,497" fill="none" stroke="#111" stroke-width="1.500"/>
</g>
<!-- 7 ring + rope -->
<g transform="rotate(-18 524.600 471.800)">
<ellipse cx="524.600" cy="471.800" rx="10.300" ry="13.800" fill="none" stroke="#111" stroke-width="1.500"/>
<ellipse cx="525.400" cy="471.300" rx="8.300" ry="11.600" fill="none" stroke="#111" stroke-width="1.300"/>
</g>
<path d="M536.500,432.500 L533,464" stroke="#222" stroke-width="2.400" fill="none"/>
<path d="M536.500,432.500 L533,464" stroke="#ccc" stroke-width="0.700" fill="none"/>
<!-- 8 washer -->
<ellipse class="w" cx="551.400" cy="460.500" rx="4.300" ry="6.800" transform="rotate(-18 551.400 460.500)"/>
<ellipse cx="551.400" cy="460.500" rx="1.300" ry="2.200" fill="#333" transform="rotate(-18 551.400 460.500)"/>
<!-- 9 screw -->
<g transform="translate(566,456) rotate(-13)"><use href="#scr"/></g>
<!-- 10 handle -->
<path class="w" d="M524,399 L526,393 L532,389.500 L538,391 L565,404.500 L566.500,410 L561,416 L557,413 L548,409 L544,410 L543,420 L545,423 L543,429 L536,432 L530,430 L528.500,425 L532,419 L535,406 Z" style="stroke-width:1.400"/>
<path class="k" d="M524,399 L530,396 L559,409.500 L561,416 M530,396 L532,389.500 M559,409.500 L565,404.500 M528,398 L533,394 M535,406 L544,410 M533,418 Q538,421 543.500,419.500 M532,420.500 Q538,423.500 544.500,422 M540,395.500 Q543,394.500 545,396.500"/>
<path class="kb" d="M527,397.500 L543,405 L556,411" style="stroke-width:1.800"/>
<!-- 11 bushing -->
<path class="w" d="M541.500,386.500 Q541.500,384 545,383.800 Q549,384 549,386.500 V390 Q546,392 541.500,390 Z" style="stroke-width:1.400"/>
<ellipse cx="545.300" cy="386" rx="2.600" ry="1.500" fill="#fff" stroke="#111" stroke-width="1"/>
<!-- 12 spring + cap -->
<path d="M545.500,346.500 Q550.500,344.500 555.500,347.500 Q555,350.500 553,351 L552.500,355 Q550,356 547.500,354.500 L547.500,350.500 Q545.500,349 545.500,346.500 Z" class="w" style="stroke-width:1.300"/>
<ellipse cx="550.500" cy="347" rx="4.600" ry="1.700" fill="#333"/>
<path class="rs" d="M549.700,358 L545.500,382"/>
<path d="M547.500,358.500 L552,360 L546.800,362 L551.500,363.500 L546.300,365.500 L551,367 L545.800,369 L550.500,370.500 L545.300,372.500 L550,374 L544.800,376 L549.500,377.500 L544.500,379.500" fill="none" stroke="#111" stroke-width="1.300"/>
</g>

<!-- 17_topcover.svg -->
<g id="topcover">
<!-- 57 cap -->
<path d="M1206.400,612 Q1208,605 1216,603 Q1226,602.500 1230,610 Q1231,617 1227,621 L1225,625 Q1217,628 1210.500,623.500 L1209.500,619 Q1206,616 1206.400,612 Z" fill="#fff" stroke="#111" stroke-width="1.400"/>
<path d="M1209,607.500 Q1214,611 1216,619 M1213,604.500 Q1219,609 1221,619 M1218,603 Q1224,608 1226,618 M1223,604 Q1228,608 1229,615 M1207,613 Q1217,623 1228,618" fill="none" stroke="#111" stroke-width="1.500"/>
<!-- 56 washer -->
<ellipse class="w" cx="1214.400" cy="651.600" rx="9.800" ry="6.200" transform="rotate(12 1214.400 651.600)" style="stroke-width:1.400"/>
<ellipse class="k" cx="1214.800" cy="652" rx="6" ry="3.400" transform="rotate(12 1214.800 652)" style="stroke-width:1.300"/>
<!-- 55 cover -->
<path class="w" d="M1142.400,702 L1148,681.200 L1154.400,678 L1156,662 L1175.200,654.800 L1187.200,671.600 L1208.800,680.400 L1222.400,692.400 L1241.600,711.600 L1246.400,721.200 L1244,729.200 L1232,737.200 L1209.600,745.200 L1192,743.600 L1172.800,729.200 L1152,714.800 L1144,706.800 Z" style="stroke-width:1.400"/>
<path class="k" d="M1148,681.200 L1163.200,698.800 L1177.600,692.400 L1208.800,680.400 M1163.200,698.800 L1160,705.200 L1144,706.800 M1160,705.200 L1172.800,729.200 M1177.600,692.400 L1204.800,722.800 L1200,743.600 M1204.800,722.800 Q1230,720 1243,713.500 M1156,662 L1164.800,684.400 M1175.200,654.800 L1167.200,660.400 L1182.400,687.600 M1164.800,684.400 L1167,690 M1187.200,671.600 L1193.600,682.800 M1170,658.500 L1185,684.500"/>
<path class="k" d="M1152,712.400 L1172,727 L1175,726 L1155,711 Z M1217.600,737.200 Q1217.500,733.500 1221,733 L1232,730.200 Q1235,730 1234.500,733" style="stroke-width:1.400"/>
<ellipse class="k" cx="1209.600" cy="702" rx="10" ry="6.800" transform="rotate(10 1209.600 702)" style="stroke-width:1.500"/>
<ellipse class="k" cx="1209.600" cy="702" rx="7.500" ry="4.800" transform="rotate(10 1209.600 702)"/>
<ellipse class="k" cx="1209.600" cy="702.500" rx="4" ry="2.400" transform="rotate(10 1209.600 702.500)"/>
<!-- 54 filter -->
<path class="w" d="M1146.400,780.400 L1152,770.800 L1180.800,758 L1190.400,758.800 L1206.400,770.800 L1228.800,793.200 L1226.400,804.400 L1204.800,817.200 L1187.200,817.200 L1174.400,809.200 L1152,788.400 Z" style="stroke-width:1.400"/>
<path class="k" d="M1150,780 L1155,773 L1181,761.500 L1189,762 L1203,772.500 L1222,792 L1204,802 L1188,804 L1176,798 Z M1168,767.500 L1186,789 M1160,786 L1183,776 M1176,798 L1181,790 L1204,784 L1222,792 M1186,789 L1196,797 L1204,802 M1196,797 L1188,804 M1204,802 L1204.800,817.200 M1222,792 L1226.400,804.400 M1196,780 L1207,775.500 M1152,788.400 L1156,783 L1176,801 L1187.500,807 L1187.200,817.200 M1204,802 L1214,796 L1224,798"/>
<ellipse class="k" cx="1195.200" cy="786" rx="9" ry="6.800" style="stroke-width:1.400"/>
<ellipse class="k" cx="1195.200" cy="786.500" rx="5.500" ry="4"/>
<!-- 53 plate -->
<path class="w" d="M1099.300,750 L1101.500,748.400 L1120.500,757 L1122.800,792.400 L1119,790 L1101,777 L1099.800,776 Z" style="stroke-width:1.400"/>
<path class="k" d="M1101.500,748.400 L1102.500,776.500 M1120.500,757 L1115,761 L1116,788 M1099.500,757 L1101.700,757.500 M1099.600,770 L1101.900,770.500"/>
<!-- screws -->
<g transform="translate(1006.800,807.500) rotate(-90) scale(0.700,0.950)"><use href="#scr2"/></g>
<g transform="translate(1141.900,825.500) rotate(-90) scale(0.750,0.950)"><use href="#scr2"/></g>
<g transform="translate(1158.200,826.500) rotate(-90) scale(0.750,0.950)"><use href="#scr2"/></g>
<!-- 52 cover -->
<path class="w" d="M999.100,895 L1006.800,892.200 L1006.100,855.800 L1013.800,841.100 L1048.100,829.200 L1076.800,839.700 L1097.800,846 L1113.200,854.400 L1134.200,868.400 L1158,890.800 L1174.800,907.600 L1180.400,932.800 L1169.200,938.400 L1167.100,931.400 L1145.400,938.400 L1144,948.200 L1131.400,953.800 L1118.800,956.600 Z" style="stroke-width:1.400"/>
<path class="k" d="M1013.800,841.100 L1078.200,867.700 L1085.200,848.800 L1097.800,846 M1015,843.500 L1077.500,870 M1006.100,855.800 L1072.600,888 L1078.200,867.700 M1006.800,892.200 L1011,857.500 M1003,895.500 L1008,893 M1069.800,855.100 L1085.200,848.800 L1081,865.600 Z M1072.600,888 L1130,868.400 M1073.300,890 L1131,870.400 M1072.600,888 L1079.600,899.200 L1086.600,903.400 L1093.600,916 L1100.600,917.400 M1079.600,899.200 L1083,926 Q1088,929 1092,926 L1095,913.900 M1088,892 L1095,911 M1095,890 L1103,906 L1110,903 M1103,890 L1104,906 M1110,886 L1122,882.500 L1124,904 M1122,882.500 L1130,877 L1136,880 L1138,910 M1130,877 L1130,868.400 M1110,903 L1122,898 L1124,912 L1128,913 L1129,900 M1138,910 L1150,921 M1140,914 L1160,917 L1166,906 M1150,902 L1156,916 M1113.200,854.400 L1116,872 M1097.800,846 L1103,852 L1108,851 M1172,912 L1170,927 L1174,930 L1176,914"/>
<path class="kb" d="M1099,846.500 L1109,856 L1135.600,871 L1172,907.600 L1165,920.200 L1144,930 L1130,931.400 L1116,927.200 L1100.600,916" style="stroke-width:1.900"/>
<circle class="k" cx="1107" cy="890" r="2.500" style="stroke-width:1.500"/>
<path class="kb" d="M1131.400,953.800 L1134,950 L1143,946.500" style="stroke-width:2"/>
<!-- 51 piece -->
<path class="w" d="M1005.400,948.200 L1008.900,931.400 L1012.400,934.200 L1022.200,941.200 L1027.800,940.500 L1029.200,945.400 L1018,959.400 L1012.400,958 Z" style="stroke-width:1.400"/>
<path class="k" d="M1008.900,931.400 L1008.500,935 L1020,944.500 L1022.200,941.200 M1020,944.500 L1022,948"/>
<ellipse class="k" cx="1013.100" cy="948.200" rx="2" ry="2.700"/>
<path class="f" d="M1018,957.500 L1027,946 L1023,952 L1021,958 Z"/>
<path d="M1017,958 L1026.500,947.500" stroke="#111" stroke-width="2.500"/>
</g>

<!-- 18_rear.svg -->
<g id="rear">
<!-- 44 body -->
<path class="w" d="M338,1118.700 L342,1116 L370,1108.700 L380.700,1111.300 L390,1124 L396.700,1125.300 L399.300,1110.700 L410,1104 L423.300,1097.300 L431.300,1090.700 L440.700,1084 L450,1083.300 L463.300,1094.700 L480.700,1113.300 L503.300,1136 L518,1152 L519.300,1161.300 L516.700,1180 L511.300,1194.700 L499.300,1200 L456.700,1185.300 L456,1177.300 L422,1176 L418,1173.300 L400.700,1169.300 L395.300,1162.700 L394,1153.300 L390,1146.700 L383.300,1152 L374,1146.700 L362,1145.300 L355.300,1140 L352.700,1134 L344.700,1136 L338,1132 Z" style="stroke-width:1.500"/>
<!-- front arm details -->
<path class="k" d="M338,1118.700 L344,1122 L372,1113 L380.700,1111.300 M344,1122 L344.700,1136 M349,1120.500 L350,1133 L352.700,1134 M356,1118.500 L358,1126 L365,1134 L374,1136 L383,1144 M365,1134 L362,1145.300 M372,1113 L378,1124 L390,1131 L394,1137 M378,1124 L366,1128 L358,1126 M383,1118 L387,1128 M374,1136 L380,1130 L390,1131 M383,1144 L390,1146.700 M387,1138 L392,1143" style="stroke-width:1.300"/>
<path class="kb" d="M338,1118.700 L338,1132 L344.700,1136 L352.700,1134 L355.300,1140 L362,1145.300 L374,1146.700 L383.300,1152 L390,1146.700" style="stroke-width:1.900"/>
<!-- central block -->
<path class="k" d="M399.300,1110.700 L401,1122 L412,1120 L414,1108 L410,1104 M412,1120 L413,1126 L420,1124 L424,1117 L424,1100 M401,1122 L400,1130 M423.300,1097.300 L426,1100 L426,1112 L437,1109 L437,1093 L431.300,1090.700 M428.500,1098 L428.500,1108 L435,1106.500 L435,1096.500 Z M437,1093 L441,1096 L441,1112 L437,1109 M424,1117 L428,1119 L428,1126 L440,1137 M441,1112 L444.700,1118.700 M440.700,1084 L442,1090 L448,1096 L450,1083.300 M414,1126 L416,1160 L418,1173.300 M420,1124 L428,1126 M400,1130 L396.700,1125.300 M416,1160 L424,1150 L440,1137" style="stroke-width:1.300"/>
<ellipse class="k" cx="417" cy="1104.500" rx="1.800" ry="2.500" style="stroke-width:1.500"/>
<!-- circles -->
<ellipse class="w" cx="404" cy="1138.700" rx="9.300" ry="11" transform="rotate(-18 404 1138.700)" style="stroke-width:1.800"/>
<ellipse class="k" cx="405" cy="1138" rx="7" ry="8.600" transform="rotate(-18 405 1138)" style="stroke-width:1.500"/>
<path class="kb" d="M396,1145 Q400,1152 408,1150.500 M395.500,1148 Q401,1156 410,1152.500" style="stroke-width:1.500"/>
<ellipse class="w" cx="432.700" cy="1166.700" rx="8.600" ry="9.600" transform="rotate(-18 432.700 1166.700)" style="stroke-width:1.800"/>
<ellipse class="k" cx="433.500" cy="1166" rx="6.300" ry="7.300" transform="rotate(-18 433.500 1166)" style="stroke-width:1.600"/>
<path class="k" d="M394,1153.300 L399,1160 L403,1158 L406,1163 L414,1166 M422,1176 L424,1172 M443,1172 L456,1177.300 M446,1168 L449,1174 M444,1160 L458,1173.300"/>
<path class="f" d="M446.500,1172.500 L449.500,1175 L445.500,1175.500 Z"/>
<!-- rear handle loop -->
<path class="w" d="M444.700,1118.700 L458,1112.700 L475.300,1132 L503.300,1158.700 L507.300,1164 L502,1188 L496.700,1193.300 L463.300,1178.700 L458,1173.300 L442,1142.700 L440.700,1126.700 Z" style="stroke-width:1.700"/>
<path class="k" d="M447,1121.500 L457,1117 L472,1134 L474,1150 L466,1166 L462,1172 M472,1134 L499,1160 L502,1165 L497,1186 M474,1150 L500,1163 M466,1166 L494,1178 L497,1186 M445,1128 L452,1125 M456,1112.700 L457,1117 M480,1140 L481,1152" style="stroke-width:1.200"/>
<!-- right rail with ribs -->
<path class="kb" d="M450,1083.300 L463.300,1094.700 L480.700,1113.300 L503.300,1136 L518,1152" style="stroke-width:2.600"/>
<path class="kb" d="M456,1098 L468,1109 L478,1119 L500,1141 L510,1153 L511,1160" style="stroke-width:2.200"/>
<path class="k" d="M476,1117 L481,1113.500 M482,1123 L487,1119.500 M488,1129 L493,1125.500 M494,1135 L499,1131.500 M500,1141 L505,1137.500 M505.500,1147 L510,1143.500 M510,1153 L515,1149 M470,1111 L475,1107.500 M464,1105 L469,1101.500" style="stroke-width:2"/>
<path class="k" d="M450,1090 L455,1097 L456,1110 M463.300,1094.700 L461,1100 M511,1160 L519.300,1161.300 M511,1160 L508,1178 L503,1192 M508,1178 L516.700,1180 M512,1164 L510,1178 M456.700,1185.300 L463.300,1178.700 M499.300,1200 L496.700,1193.300 M511.300,1194.700 L503,1192"/>
<path class="f" d="M447,1097 Q449.500,1099 448.500,1103 Q446.500,1104 446.500,1101 Z M457,1096 L459,1099 L456.500,1101 Z"/>
<!-- 43 screw & line -->
<path class="kt" d="M509.500,1196 L509.300,1215"/>
<g transform="translate(509.300,1215) rotate(90) scale(1.050,1)"><use href="#scr2"/></g>

<!-- 25 top handle cover -->
<path class="w" d="M441.600,1020.400 L443.200,1012.400 L450,1006 L456,1003.600 L462.400,1006 L464,1014 L467.200,1022 L496,1057.200 L512,1076.400 L518.400,1087.600 L516,1091.500 L512,1092.400 L510.500,1089 L505,1091 L499.200,1086 L478,1060 L464,1042.800 L456,1038 L451.200,1030 Z" style="stroke-width:1.500"/>
<path class="k" d="M443.200,1012.400 L448,1020 L456,1024 L464,1036 L500,1080 L505,1085 L510.500,1089 M456,1018 L458,1024 L462,1028 M452,1012 Q457,1008 462.400,1006 M458,1024 Q460,1018 464,1014"/>
<path class="k" d="M465.600,1026.800 L500.800,1066.800 L499,1069.500 L464,1029.500 Z M467,1028 L500,1067.500 M466,1029 L499.500,1068.500" style="stroke-width:0.900"/>
<path class="kb" d="M469,1030 L499,1065" style="stroke-width:1.600"/>
<!-- trigger/lever part under 25 -->
<path class="w" d="M441.600,1054 L446,1049 L452,1048 L458,1051 L462,1060 L470,1078 L473.600,1093 L470,1096 L462,1090 L456,1084 L450,1084 L447,1070 L442,1062 Z" style="stroke-width:1.400"/>
<path class="k" d="M446,1049 L448,1062 L452,1074 L454,1084 M452,1048 L454,1060 L460,1074 L466,1088 M458,1051 L459,1062 M448,1062 L442,1062 M452,1074 L447,1070"/>
<ellipse cx="460" cy="1078" rx="4" ry="5" fill="#fff" stroke="#111" stroke-width="1.800" transform="rotate(-25 460 1078)"/>
<path class="kb" d="M455,1070 L458,1073 M462,1083 L468,1090 M456,1066 Q462,1068 465,1076" style="stroke-width:1.600"/>
<!-- 26 primer bulb & tube -->
<path class="w" d="M517,1020 Q516,1013 521.600,1012 Q527,1012.500 527,1019 L526.500,1023 Q522,1026 517.500,1023.500 Z" style="stroke-width:1.300"/>
<path class="k" d="M517,1019.500 Q522,1022 527,1019 M519,1024.500 L519.500,1028 Q522,1029.500 524.500,1028 L525,1025"/>
<path d="M525.800,1030 L531,1084" stroke="#222" stroke-width="3.600" fill="none" stroke-linecap="round"/>
<path d="M525.800,1030 L531,1084" stroke="#fff" stroke-width="1.600" fill="none" stroke-linecap="round"/>
</g>

<!-- 19_smallparts.svg -->
<g id="smallparts">
<!-- 21 plug -->
<path class="w" d="M293.500,1024.500 Q297,1022.500 301,1024.500 L301,1028.500 L299.500,1030 L299.500,1036 Q297.500,1037.500 295.500,1036 L295.500,1030 L293.500,1028.500 Z" style="stroke-width:1.400"/>
<path d="M296.500,1037.500 L298.500,1037.500 L298.500,1042 L296.500,1042 Z" fill="#333"/>
<!-- 20 -->
<path class="w" d="M296,1050.500 L304.500,1049.500 L305,1053 L302,1054 L302,1057 L298,1057.500 L297.500,1054.500 Z" style="stroke-width:1.500"/>
<!-- 22 spring -->
<g transform="translate(339,1074) rotate(-15.800)">
<path d="M0,0 H9" stroke="#222" stroke-width="3" stroke-linecap="round"/>
<path d="M31,0 H40.500" stroke="#222" stroke-width="3" stroke-linecap="round"/>
<rect x="9" y="-3.300" width="22" height="6.600" rx="2.200" fill="#bbb" stroke="#222" stroke-width="1.200"/>
<path d="M11,-3.300 V3.300 M13,-3.300 V3.300 M15,-3.300 V3.300 M17,-3.300 V3.300 M19,-3.300 V3.300 M21,-3.300 V3.300 M23,-3.300 V3.300 M25,-3.300 V3.300 M27,-3.300 V3.300 M29,-3.300 V3.300" stroke="#444" stroke-width="0.800"/>
</g>
<!-- 23, 24 screws -->
<g transform="translate(343.500,1088) rotate(90) scale(0.720,0.900)"><use href="#scr2"/></g>
<g transform="translate(376.500,1082) rotate(90) scale(0.720,0.900)"><use href="#scr2"/></g>
<!-- 19 hose + grommet -->
<path d="M284.500,1116 Q281,1098 282.500,1086 M288,1116 Q285.500,1098 289,1085.500" stroke="#333" stroke-width="1.300" fill="none"/>
<path d="M285.500,1130 L287,1156" stroke="#333" stroke-width="3.200" stroke-linecap="round"/>
<path d="M285.500,1130 L287,1156" stroke="#eee" stroke-width="1.200" stroke-linecap="round"/>
<path class="w" d="M274,1119 Q281,1114.500 289,1117 L289.500,1121 Q289.500,1124 287,1125 L288,1128.500 Q281,1132 274.500,1128.500 Z" style="stroke-width:1.500"/>
<path class="k" d="M274,1121.500 Q281,1125 289.500,1121 M274.500,1125 Q281,1128 288,1125"/>
<circle class="f" cx="276.500" cy="1133.500" r="1.300"/>
<!-- 18 knurled cap -->
<path d="M228.500,1139 Q229,1134 234,1133.500 L241,1134.500 Q244.500,1136 244,1141 Q243.500,1146 239.500,1148 L232.500,1148.500 Q228,1146 228.500,1139 Z" fill="#fff" stroke="#222" stroke-width="1.400"/>
<path d="M231,1135.500 Q230,1141 231.500,1147 M234,1134 Q233,1141 234.500,1148 M237,1134 Q236,1141 237.500,1148 M240,1134.500 Q239,1141 240.500,1147.500" stroke="#333" stroke-width="1.100" fill="none"/>
<!-- 50 cap -->
<g transform="rotate(-18 174 1218)">
<ellipse cx="174" cy="1218" rx="12" ry="13.500" fill="#fff" stroke="#111" stroke-width="1.500"/>
<path d="M174,1204.500 A12,13.500 0 0 1 174,1231.500 A9.500,13.500 0 0 0 174,1204.500 Z" fill="#222"/>
<ellipse cx="171.500" cy="1218" rx="9" ry="12" fill="none" stroke="#111" stroke-width="1.200"/>
</g>
<circle class="k" cx="166" cy="1221" r="2.600"/><circle class="k" cx="171" cy="1219" r="2.600"/><circle class="k" cx="176" cy="1217" r="2.600"/><circle class="k" cx="168" cy="1226" r="2.600"/><circle class="k" cx="173.500" cy="1224" r="2.600"/>
<!-- 49 ring -->
<ellipse class="w" cx="213" cy="1206" rx="10.800" ry="13.300" transform="rotate(-18 213 1206)" style="stroke-width:1.500"/>
<ellipse class="k" cx="213.500" cy="1206" rx="7" ry="9.200" transform="rotate(-18 213.500 1206)" style="stroke-width:1.400"/>
<!-- 48 filter -->
<path d="M262,1185.500 Q264,1182 270,1181.500 L287,1178.800 Q289.500,1180 287,1182 L272,1187.500 Q266,1189.500 262,1185.500 Z" fill="#1a1a1a" stroke="#111" stroke-width="1"/>
<ellipse cx="268" cy="1185" rx="2.400" ry="1.300" fill="#aaa"/>
<path d="M234,1199.500 Q236,1197 240,1196.500 L254,1192.500 Q259,1190 263,1187.500" fill="none" stroke="#111" stroke-width="2"/>
<!-- 47 cap -->
<g transform="rotate(-18 322 1203)">
<ellipse cx="322" cy="1203" rx="10.800" ry="12" fill="#fff" stroke="#111" stroke-width="1.600"/>
<ellipse cx="320.500" cy="1203" rx="8" ry="10" fill="none" stroke="#111" stroke-width="1.300"/>
<ellipse cx="320" cy="1203" rx="4.500" ry="6.300" fill="none" stroke="#111" stroke-width="1.300"/>
<path d="M315,1196 L325,1210 M316,1209 L324,1197" stroke="#111" stroke-width="1.300"/>
</g>
<!-- 46 ring -->
<ellipse class="w" cx="359" cy="1190" rx="8.600" ry="10.800" transform="rotate(-18 359 1190)" style="stroke-width:1.400"/>
<ellipse class="k" cx="359.500" cy="1190" rx="5.600" ry="7.600" transform="rotate(-18 359.500 1190)" style="stroke-width:1.300"/>
<!-- 45 clip -->
<path d="M370,1161.500 Q372,1160 377,1161.500 L391.500,1164.500 Q391,1167 387,1167.500 L378,1171 L374.500,1169.500 Z" fill="#1a1a1a"/>
<ellipse cx="376" cy="1165.500" rx="1.300" ry="1.100" fill="#ddd"/>
<path d="M371,1162.500 L376,1176 L381.500,1182.500" fill="none" stroke="#111" stroke-width="1.800" stroke-linecap="round"/>
<!-- 27 tube -->
<path d="M529.300,1055.600 L531.900,1084.200" stroke="#333" stroke-width="3.400" stroke-linecap="round"/>
<path d="M529.300,1055.600 L531.900,1084.200" stroke="#fff" stroke-width="1.400" stroke-linecap="round"/>
<!-- 28 zigzag spring -->
<path d="M548.300,1053 Q550,1051.500 551,1054 L554.400,1056.500 L570,1064.300 L554.400,1071.200 L578.700,1086.800 L568.300,1092 L562,1094" fill="none" stroke="#111" stroke-width="1.500" stroke-linejoin="round" stroke-linecap="round"/>
<!-- 31 tiny screw -->
<path d="M590.500,1026.500 Q594,1025 597.500,1027 L596,1029 L595.500,1033.500 Q594,1034.500 592.500,1033.500 L592,1029 Z" fill="#fff" stroke="#222" stroke-width="1.200"/>
<!-- 32 bent wire -->
<path d="M592.500,1040 Q594,1044 596,1048.700 L599.500,1072.900 L595,1080.500 L590.500,1082" fill="none" stroke="#222" stroke-width="4.200" stroke-linecap="round" stroke-linejoin="round"/>
<path d="M592.500,1040 Q594,1044 596,1048.700 L599.500,1072.900 L595,1080.500 L590.500,1082" fill="none" stroke="#fff" stroke-width="2" stroke-linecap="round" stroke-linejoin="round"/>
<!-- 33 plate -->
<path class="w" d="M605.500,1085.100 Q607,1082 611.600,1082.500 L628.900,1097.200 L637.600,1111.100 L640.200,1126.700 L636.700,1128.400 L633,1124 L625.500,1114.500 Q615,1104 606.500,1091 Z" style="stroke-width:1.500"/>
<path class="k" d="M636.700,1128.400 L635,1112 L627,1099 L611,1085.500 M626,1118 L627.500,1112 L629,1117"/>
<path class="f" d="M625.500,1117.500 L627.500,1111.500 L629.500,1117.500 Z"/>
<path d="M607.500,1093 L610.500,1105.500" stroke="#222" stroke-width="4" stroke-linecap="round"/>
<path d="M607.500,1093 L610.500,1105.500" stroke="#ddd" stroke-width="1.800" stroke-linecap="round"/>
<!-- 34 rod -->
<path d="M583.900,1097.200 L621.100,1144.900" stroke="#111" stroke-width="1.700" fill="none"/>
<ellipse cx="583.400" cy="1096" rx="2.600" ry="3.200" fill="#fff" stroke="#111" stroke-width="1.300"/>
<path d="M581,1100 L592,1099" stroke="#111" stroke-width="1.200"/>
<!-- 35 lever -->
<path d="M559.600,1093.700 L562,1089 L566,1090 L568,1098 L574,1108 L578.700,1118 L579,1126 L575,1129 L570,1128 L566,1118 L560,1108 L556,1106 Z" fill="#fff" stroke="#111" stroke-width="1.800" stroke-linejoin="round"/>
<path d="M562,1090 L563,1104 L568,1116 L572,1127 M566,1098 L572,1108 L575,1120 M560,1100 L566,1112" fill="none" stroke="#111" stroke-width="1.600"/>
<path class="f" d="M567,1104 L573,1112 L576,1124 L572,1118 Z"/>
<!-- 36 pin -->
<path d="M532.500,1117 L546.500,1110.800" stroke="#111" stroke-width="4.200" stroke-linecap="round"/>
<path d="M535,1115.900 L545,1111.500" stroke="#999" stroke-width="1.400" stroke-linecap="round"/>
<!-- 37 -->
<ellipse cx="552.300" cy="1159.300" rx="1.700" ry="2.800" fill="#111" transform="rotate(-25 552.300 1159.300)"/>
<!-- 38 cylinder -->
<path d="M557.500,1162 L583,1174" stroke="#222" stroke-width="5" stroke-linecap="round"/>
<path d="M558,1162.200 L582,1173.500" stroke="#fff" stroke-width="3" stroke-linecap="round"/>
<!-- 39 dark pieces -->
<path d="M584,1174.200 L600.500,1180.200" stroke="#111" stroke-width="4" />
<path d="M588.500,1173.500 L587,1178.500 M591.500,1174.500 L590,1179.500" stroke="#fff" stroke-width="1"/>
<!-- 40 -->
<ellipse cx="604.700" cy="1184.700" rx="1.800" ry="3" fill="#111" transform="rotate(-25 604.700 1184.700)"/>
<!-- 41 round -->
<ellipse cx="626.900" cy="1203.800" rx="6.300" ry="6.800" fill="#444" stroke="#111" stroke-width="1.500"/>
<ellipse cx="628" cy="1203.300" rx="3.800" ry="4.300" fill="#999" stroke="#111" stroke-width="1"/>
<!-- 42 pin -->
<path d="M594,1212.300 L603.500,1209.100" stroke="#111" stroke-width="4" stroke-linecap="round"/>
<path d="M596.500,1211.500 L603,1209.300" stroke="#888" stroke-width="1.500" stroke-linecap="round"/>
<!-- 29 bracket -->
<path class="w" d="M686.500,1036 L691,1029.500 L699,1032 L706,1016.500 L715.500,1021.500 L709,1037 L702.500,1047 L698.500,1045.500 Z" style="stroke-width:1.400"/>
<path class="k" d="M699,1032 L702.500,1047 M699,1032 L709,1037"/>
<circle cx="691.500" cy="1036" r="1.500" fill="#111"/>
<!-- 30 bolt -->
<g transform="translate(725,1027.500) rotate(-17)"><rect x="0" y="-2.200" width="10" height="4.400" rx="1" class="w"/><path d="M10,-3.800 H14.500 Q17,-3.800 17,0 Q17,3.800 14.500,3.800 H10 Z" fill="#fff" stroke="#111" stroke-width="1.300"/></g>
</g>

<!-- 20_engine_a.svg -->
<g id="engine">
<path d="M760,439 L759,424 L764,395 L770,389 L810,375 L815,378 L825,390 L855,389 L870,388 L884.600,406 L885,449 L898,452 L898.200,428.800 L903,423.200 L911,423.600 L917.400,432 L923,452 L925.400,464 L949.400,469.600 L950.200,482.400 L952.600,485.600 L939,493.600 L924,498 L925,525 L939.500,535.500 Q956,540 956,554 Q955,566 947.300,575.300 L940.300,578 L879.700,543 L870,560 L864,590 L852,593 L813.600,565 L787,546 L755,529 L750,518 L763,506 L748,486 L745,470 L752,445 Z" fill="#fff" stroke="none"/>
<path class="k" d="M760,439 L759,424 L764,395 Q766,391 770,389 L808,375.500 Q812,374.500 815,378 L823,387 L825,390 M811.500,380.500 L819,386.500" style="stroke-width:1.200"/>
<path class="w" d="M787,409 L805,400 L807,397 L825,390.500 L845,389.500 L862,389 L884.600,406 L884.600,449 L834,461 L793,441 Z" style="stroke:none"/>
<path class="k" d="M787,409 L805,400 L807,397 L825,390.500 L836,391 L850,389.500 L858,389 M805,400 L808,403 L833,409 L836,420 M808,403 L806,406 L798,405 M833,409 L846,404 M798,405 L812,408 L830,412" style="stroke-width:1.300"/>
<path d="M787.0,409.0 L834,425.5" stroke="#111" stroke-width="2.500" fill="none"/>
<path d="M787.8,414.0 L834,430.5" stroke="#111" stroke-width="2.500" fill="none"/>
<path d="M788.6,419.0 L834,435.5" stroke="#111" stroke-width="2.500" fill="none"/>
<path d="M789.4,424.0 L834,440.5" stroke="#111" stroke-width="2.500" fill="none"/>
<path d="M790.2,429.0 L834,445.5" stroke="#111" stroke-width="2.500" fill="none"/>
<path d="M792.0,434.3 L834,450.5" stroke="#111" stroke-width="2.500" fill="none"/>
<path d="M793.0,439.4 L834,455.5" stroke="#111" stroke-width="2.500" fill="none"/>
<path d="M805.0,448.2 L834,460.5" stroke="#111" stroke-width="2.500" fill="none"/>
<path d="M799.0,450.9 L834,465.5" stroke="#111" stroke-width="2.500" fill="none"/>
<path d="M835,424.5 L884.6,409.5" stroke="#111" stroke-width="2.500" fill="none"/>
<path d="M835,429.5 L884.6,414.5" stroke="#111" stroke-width="2.500" fill="none"/>
<path d="M835,434.5 L884.6,419.5" stroke="#111" stroke-width="2.500" fill="none"/>
<path d="M835,439.5 L884.6,424.5" stroke="#111" stroke-width="2.500" fill="none"/>
<path d="M835,444.5 L884.6,429.5" stroke="#111" stroke-width="2.500" fill="none"/>
<path d="M835,449.5 L884.6,434.5" stroke="#111" stroke-width="2.500" fill="none"/>
<path d="M835,454.5 L884.6,439.5" stroke="#111" stroke-width="2.500" fill="none"/>
<path d="M835,459.5 L878.0,446.4" stroke="#111" stroke-width="2.500" fill="none"/>
<path d="M835,464.5 L878.0,451.4" stroke="#111" stroke-width="2.500" fill="none"/>
<path d="M834.500,424 V466" stroke="#111" stroke-width="2.600" stroke-dasharray="2.800 2.200"/>
<path d="M884.600,407 V450" stroke="#111" stroke-width="1.400"/>
<path d="M787.500,409 L790,430 L793,442" stroke="#111" stroke-width="1.300" fill="none"/>
<ellipse cx="836" cy="399" rx="6.500" ry="2.800" class="w" transform="rotate(-14 836 399)" style="stroke-width:1.300"/>
<path class="k" d="M830,400 L830.500,403 Q836,405.500 842.500,400.500 L842,398"/>
<path class="w" d="M856,392 Q860,387.500 866,389.500 L872,392 Q873.500,397 870,399.500 L862,398 Z" style="stroke-width:1.300"/>
<ellipse cx="868" cy="394.500" rx="4.300" ry="5" class="w" style="stroke-width:1.300"/>
<path class="kb" d="M846,397 L852,401 L858,399 M850,405 L857,409 L866,404 M862,399 L868,403" style="stroke-width:1.700"/>
<path d="M856,393 Q846,404 835,421 Q822,440 806,450 Q795,455.500 779,456" fill="none" stroke="#111" stroke-width="5.400" stroke-linecap="round"/>
<path d="M856,393 Q846,404 835,421 Q822,440 806,450 Q795,455.500 779,456" fill="none" stroke="#fff" stroke-width="3" stroke-linecap="round"/>
</g>

<!-- 21_engine_b.svg -->
<g id="engine_b">
<!-- left bracket / coil -->
<path class="k" d="M760,439 L752,445 L745,470 L748,486 L753,488 L757,480 L760,462 L766,450 L772,446 M752,445 L756,441 L764,444 M748,472 Q750,468 752,472 Q752,476 749,476 M757,480 L762,484 L770,466 L776,456 M766,450 L776,456 L786,462 M772,446 L778,442 L788,448 L786,462 M778,442 L780,452" style="stroke-width:1.500"/>
<path class="kb" d="M762,444 L770,452 L776,460 L782,470 M768,446 L775,452" style="stroke-width:2.200"/>
<path class="k" d="M776,456 L782,452 L790,456 L790,466 L800,470 M786,462 L792,474 L800,478 M770,466 L775,478 L770,490 L762,500 L763,506 M775,478 L784,484 L790,494 L798,500" style="stroke-width:1.400"/>
<!-- below cylinder: crankcase top -->
<path class="k" d="M793,441 L796,452 L806,458 L812,470 L808,478 L800,478 M806,458 L818,462 L834,466 M812,470 L826,474 L836,470 L850,476 M818,462 L820,470 M826,474 L826,484 L818,490 M836,470 L838,482 L848,488 M800,478 L804,490 L812,494 L818,490 M790,494 L800,492 L804,490" style="stroke-width:1.400"/>
<path class="kb" d="M798,462 L806,468 L808,476 M812,480 L820,484 M800,470 L804,476 M793,449 L799,455" style="stroke-width:2"/>
<!-- flywheel housing arcs -->
<path class="k" d="M826,476 Q850,492 858,522 Q864,556 858,590 M834,486 Q850,500 854,524 Q858,550 853,574" style="stroke-width:1.100"/>
<path class="k" d="M834,466 L850,476 L866,470 L878,478 L884,472 L905,470 M850,476 L852,486 L866,492 L878,488 L878,478 M866,470 L866,480 M866,492 L868,504 M852,486 L856,500 L862.300,506"/>
<!-- flywheel fins/lines -->

<!-- crank end -->
<ellipse class="w" cx="808" cy="519" rx="9.500" ry="12" transform="rotate(-15 808 519)" style="stroke-width:1.300"/>
<ellipse cx="807" cy="519.500" rx="6.500" ry="8.800" fill="#fff" stroke="#111" stroke-width="2.200" transform="rotate(-15 807 519.500)"/>
<ellipse cx="806" cy="520" rx="3.600" ry="5.200" fill="#fff" stroke="#111" stroke-width="1.600" transform="rotate(-15 806 520)"/>
<ellipse cx="805" cy="520.500" rx="1.700" ry="2.600" fill="#fff" stroke="#111" stroke-width="1.200" transform="rotate(-15 805 520.500)"/>
<!-- left lower bracket -->
<path class="w" d="M750,518 L763,510 L768,511 L790,520 L796,517 L800,524 L794,530 L784,528 L772,532 L758,529 L755,532 Z" style="stroke-width:1.400"/>
<path class="k" d="M750,518 L757,523 L763,510 M757,523 L758,529 M768,511 L770,520 L784,528 M770,520 L762,525 M776,516 L778,522 M790,520 L788,526"/>
<circle class="f" cx="796.500" cy="514" r="1.300"/>
<path class="kb" d="M779,536 L790,532 L800,534 M783,542 L790,538" style="stroke-width:1.900"/>
<!-- crankcase bottom fins -->
<path class="k" d="M787,546 L785,551 L790,550 L796,545 L806,546 M793,557 L792,563 L798,561 L804,553 L816,553 M800,564 L800,570 L806,568 L812,560 L824,560 M808,571 L809,577 L815,575 L819,567 L830,566 M804,553 L808,546 M812,560 L816,553 M819,567 L824,560 M796,545 L800,538 L812,536 L820,540 L826,548 L830,566 M815,575 L852,593 M830,566 L842,562 L850,556 M826,548 L836,546" style="stroke-width:1.600"/>
<ellipse cx="821" cy="541" rx="4" ry="5.500" fill="#333" stroke="#111" stroke-width="1.200" transform="rotate(-30 821 541)"/>
<path class="kb" d="M812,530 L820,534 L826,532 M816,526 L822,528" style="stroke-width:1.900"/>
<!-- base triangle -->
<path class="k" d="M862.300,506 L858,540 L853.700,591.800 L864,590 L870,560 L879.700,543 M866,508 L862,545 L858,590 M852,593 L845,587.500 M836,576 L853,588 M840,572 L855,582 M870,510 L866,545" style="stroke-width:1.400"/>
<!-- carb area -->
<path class="kb" d="M868,454 L878,450 L884,452 M872,462 Q868,468 870,478 M876,458 L880,466 L888,468 M890,456 L896,462 L904,460" style="stroke-width:2"/>
<ellipse cx="874" cy="474" rx="6" ry="9" fill="#fff" stroke="#111" stroke-width="1.700" transform="rotate(-15 874 474)"/>
<path d="M871,468 L872,480 M874,467 L875.500,481 M877,468 L878,479" stroke="#111" stroke-width="1.400"/>
<ellipse cx="886" cy="476" rx="3.600" ry="4.600" fill="#fff" stroke="#111" stroke-width="1.600"/>
<ellipse cx="896" cy="478" rx="3" ry="4" fill="#333" stroke="#111" stroke-width="1.300"/>
<path class="kb" d="M880,484 L892,488 L900,484 M884,462 L892,466 L894,472 M898,468 L904,470" style="stroke-width:1.800"/>
<path class="k" d="M884.600,449 L890,446 L894,448 L894,458 L888,460 M890,446 L890,456"/>
<!-- arch -->
<path class="w" d="M897.400,452 L898.200,428.800 Q899,424 903,423.200 L911,423.600 Q915,426 917.400,432 L923,452 L925.400,464 L915,462 L906,456 Z" style="stroke-width:1.400"/>
<path class="k" d="M902,452 L904.600,437.600 Q905.500,435 907,435.200 Q909.500,435.500 910.200,437.600 L906.200,456 M907,437 L903.500,455 M903,423.200 Q908,424 911,430 L920,452"/>
<!-- intake ellipse -->
<ellipse class="w" cx="911" cy="463.200" rx="14" ry="10.600" transform="rotate(18 911 463.200)" style="stroke-width:1.500"/>
<ellipse class="k" cx="911" cy="462" rx="12" ry="8.600" transform="rotate(18 911 462)" style="stroke-width:1.700"/>
<path class="k" d="M898,468 Q902,478 914,478 Q922,476 924,470"/>
<!-- bracket plate -->
<path class="w" d="M925.400,464 L931,462 L949.400,469.600 L950.200,482.400 L952.600,485.600 L939,493.600 L937,490 L931.800,487.200 L906.200,498.400 L890,504 L884,498 L905,490 L920,483 L930,478 Z" style="stroke-width:1.400"/>
<path class="k" d="M931,462 L932,466 L946,472 L949.400,469.600 M932,466 L927,470 M886.600,494.700 L936.900,482.600 L946,484 M905.700,498.200 L934.300,489.500 L938.600,493 M896,492 L898,500 M904,490 L906,498"/>
<path class="f" d="M942,469 L948,471.500 L947.500,473.500 L941.500,471 Z"/>
<path d="M906.200,451.200 Q920,462 930,470 Q942,480 951,484.800" fill="none" stroke="#111" stroke-width="1.500"/>
<!-- strut -->
<path class="k" d="M921.300,496.500 L924.700,525 M926,495 L929,524" style="stroke-width:1.400"/>
<!-- tank block -->
<path class="w" d="M874.500,505 L893.500,510.300 L907.400,506 L909,531 L892.700,536.300 L879.700,540.700 L871,535.500 L868.400,519 Z" style="stroke-width:1.400"/>
<path class="k" d="M893.500,510.300 L892.700,536.300 M874.500,505 L868.400,519 M874.500,505 L890,498 L907.400,506"/>
<ellipse class="k" cx="876.200" cy="527.200" rx="6" ry="7.800" transform="rotate(-15 876.200 527.200)" style="stroke-width:1.500"/>
<ellipse cx="876.600" cy="527.200" rx="2.600" ry="5.600" fill="#333" transform="rotate(-15 876.600 527.200)"/>
<!-- bottom rail -->
<path class="k" d="M879.700,542.400 L940.300,577 L947.300,575.300 M881,540 L941,574.500 M909,531 L915,536 L939.500,535.500 M895,537 L898,552 M899,536 L902,554 M903,535 L906,556" style="stroke-width:1.400"/>
<circle cx="908" cy="552" r="2" fill="#555" stroke="#111" stroke-width="0.800"/>
<!-- round boss -->
<path class="w" d="M939.500,535.500 Q956,538 956,554 Q955,566 947.300,575.300 L940.300,577 L925,568 Q917,562 917.500,552 Q919,546 924,545 L922,540 L926,537 Z" style="stroke-width:1.400"/>
<ellipse class="w" cx="935.100" cy="555.400" rx="6.500" ry="11" transform="rotate(-15 935.100 555.400)" style="stroke-width:1.400"/>
<path class="w" d="M923,548.500 L936,545 L940,566 L927,567.500 Z" style="stroke:none"/>
<path class="k" d="M921.500,548.700 L933.500,544.800 M926.500,567.600 L938.500,565.800"/>
<ellipse class="w" cx="924.300" cy="558" rx="6" ry="9.600" transform="rotate(-15 924.300 558)" style="stroke-width:1.500"/>
<ellipse cx="924.300" cy="558" rx="2.200" ry="3.300" fill="#111" transform="rotate(-15 924.300 558)"/>
<path class="k" d="M947,560 L947.300,575.300 M943,562 L943.500,574 M922,540 L926,544 L931,541"/>
<!-- screw right of engine -->
<g transform="translate(978,488.300) rotate(-14) scale(0.800)"><use href="#hx"/></g>
</g>

<!-- 22_engine_c.svg -->
<g id="engine_c" fill="none" stroke="#111" stroke-linecap="round" stroke-linejoin="round">
<!-- ignition module / left dense area -->
<path stroke-width="2" d="M767.900,464 L782.600,477.600 M765,468 L779,481 M763,473 L776,485 M772.400,452.700 L775,455 M783.700,462.900 L798.500,460.600 M783.700,462.900 L788.300,477.600 M774.700,493.500 L789.400,502.500 M780.300,484.400 L793.900,493.500 M788.300,477.600 L798,483 L800,490"/>
<path stroke-width="1.500" d="M760,445 Q754,452 756,462 M770,449 L779,457 L790,452 L797,455 M779,457 L781,463 M792,466 L796,474 L804,478 M785,480 L790,488 L800,490 L806,497 M770,490 L778,500 L776,508 M768,478 L772,486 M798.500,474.200 L812,471 L834.700,472 M800,482 L814,478 L836,480"/>
<path stroke-width="2.600" d="M795,486 L801,491 M797,476 L800,479 M804,500 L809,505"/>
<!-- flywheel radial fins -->
<path stroke-width="1.300" d="M803,479 L832.500,474.500 M808.700,486.700 L837,481 M814.300,493.500 L831.300,490 M816,501 L838,496 M820,508 L842,502.500 M826,516 L842,512 M822,523 L834,519 M828,531 L846,525 M826,539.500 L841,535"/>
<path stroke-width="1.100" d="M807.500,474 Q832,478 843.800,489 Q853,502 855,520.700 Q856,540 854,554.600 Q851,568 843.800,575"/>
<!-- housing outer arcs & base -->
<path stroke-width="1.200" d="M834.700,472 Q852,482 860.800,498 Q866,514 864.200,532 L859.600,593"/>
<path stroke-width="1.500" d="M814.300,566 L848.300,593.200 L859.600,594.300 L864.500,590 M820,566 L850,589 M848.300,575 L858,580 L859.600,593 M843,571 L848,590"/>
<!-- lower crankcase zigzag fins (bold) -->
<path stroke-width="2.200" d="M784.900,549 L790,545 L798,546 M788,556 L793,551 L802,552 M792,562 L797,557 L806,558 M797,568 L801,563 L810,564 M803,573 L806,568 L814.300,566"/>
<path stroke-width="1.500" d="M798,546 L806,540 L818,541 M802,552 L812,547 M806,558 L818,553 L830,557 M810,564 L822,560 L836,566 M818,541 Q828,548 834,560 M812,530 L822,536 M834,560 L846,556 L853,548"/>
<path stroke-width="2.400" d="M778,535 L786,532 M780,541 L786,539 M800,531 L806,534 M814,535 L820,538"/>
<!-- crank area bold rings -->
<path stroke-width="2.200" d="M799,508 Q797,520 803,530 M815,510 Q820,520 815,531"/>
<path stroke-width="1.500" d="M790,512 L797,514 M792,524 L798,524 M781,522 L790,520 L792,512 L786,508"/>
<circle cx="796" cy="516" r="1.300" fill="#111" stroke="none"/>
<!-- under-cylinder dense -->
<path stroke-width="2" d="M836,470 L850,476 M846,466 L858,472 L866,469 M868,456 L874,452 M860,480 L866,486 M882,492 L890,496 M870,496 L878,500 L886,497"/>
<path stroke-width="1.400" d="M852,463 L866,458 L880,462 M866,458 L866,450 M880,462 L884.600,458"/>
</g>

<!-- 23_engine_d.svg -->
<g id="engine_d" fill="none" stroke="#111" stroke-linecap="round" stroke-linejoin="round">
<!-- carburetor dense area -->
<path stroke-width="2.600" d="M858,462 L866,458.500 L870,462 M860,469 Q858,476 861,484 M866,490 L874,494 L882,491 M884,456 L890,460 M878,466 L884,470 L886,464 M889,484 L896,488 L901,485 M892,466 Q898,470 898,476"/>
<path stroke-width="1.800" d="M857,454 L864,451 L870,454 L876,451 M864,451 L864,457 M870,454 L870,460 M880,452 L880,460 L886,463 M858,488 L866,492 M872,486 L880,486 M884,480 L890,482 M901,470 L904,478 L900,486 M886,496 L894,499 L902,495"/>
<path d="M862,463 L868,461 L869,466 L863,468 Z M891,471 l4,1 l-1,5 l-4,-1 z M877,459 l3,2 l-1,4 l-3,-2 z" fill="#111" stroke="none"/>
<ellipse cx="874" cy="474" rx="6.800" ry="9.800" stroke-width="2.200" transform="rotate(-15 874 474)"/>
<!-- extra darkness left/bottom -->
<path stroke-width="2.400" d="M781,466 L786,471 M774,474 L778,479 M790,500 L796,503 M808,536 L812,541 M818,548 L824,551 M832,556 L838,553"/>
</g>

<!-- 70_red_a.svg -->
<g id="red_a">
<path class="r" d="M783.3,208.700 L840.700,191.300"/>
<path class="rs" d="M815.3,186.700 L874,167.300 M796,237.300 L814,232.400"/>
<path class="r" d="M626.2,423.500 H668.500"/>
<path class="r" d="M668.500,423.500 V574" style="stroke-width:1;stroke:#f77"/>
<path class="r" d="M668.500,566 L803,520"/>
</g>

<!-- 71_red_b.svg -->
<g id="red_b">
<path class="r" d="M1021,266 L1162,208"/>
<path class="r" d="M950,484.800 L1330,344"/>
<path class="r" d="M1293,283 L1408,234"/>
<path class="r" d="M1272,319 L1378,275.600 L1390,306 L1414,297"/>
<path class="r" d="M1288,329 L1370,297 L1384,331 L1426,315"/>
</g>

<!-- 72_red_c.svg -->
<g id="red_c">
<path class="r" d="M146,534 L174,523 M144,608 L272,556 M220,639 L252,626"/>
</g>

<!-- 73_red_d.svg -->
<g id="red_d">
<path class="r" d="M1218.400,622 L1196,790"/>
<path class="r" d="M1007.200,808.200 L1007.500,893.600"/>
<path class="r" d="M1142.600,825 L1143.300,911.800" style="stroke-width:1"/>
<path class="r" d="M1158.700,825 L1160.100,917.400"/>
<path class="rs" d="M1028.500,941.200 L1095,913.900"/>
</g>

<!-- 74_red_e.svg -->
<g id="red_e">
<path class="rs" d="M299,1042 L302,1059"/>
<path class="r" d="M302,1059 L423,1028 L425,1101"/>
<path class="rs" d="M343.600,1078 V1089 M376,1069 V1083" style="stroke-dasharray:6 2"/>
<path class="r" d="M377,1098 L343,1112 V1118"/>
<path class="rs" d="M243,1136 L254,1129.400 L279,1172.400 L293,1166 L288,1158"/>
<path class="rs" d="M187,1215 L262,1188"/>
<path class="rs" d="M333,1199 L382,1183"/>
<path class="r" d="M382,1183 L440,1166"/>
<path class="r" d="M472,1093.200 L524,1104.400 V1031.600"/>
<path class="rs" d="M547.500,1111 L559.600,1106.700 M609,1189.900 L623.700,1198.600"/>
<path class="r" d="M578.700,1099.800 L604.700,1092"/>
<path class="r" d="M686,1039 L725,1028"/>
</g>

<!-- 80_labels_a.svg -->
<g id="labels_a">
<g class="dg" stroke-width="2.10"><path transform="translate(143.60,90.70) scale(1.100,0.978)" d="M4,8.2 C1.6,8.2 0.5,6.8 0.5,4.2 C0.5,1.4 1.7,0 4,0 C6.3,0 7.5,1.4 7.5,4.2 C7.5,6.8 6.4,8.2 4,8.2 C1.4,8.2 0,9.8 0,13 C0,16.4 1.4,18 4,18 C6.6,18 8,16.4 8,13 C8,9.8 6.6,8.2 4,8.2 Z"/><path transform="translate(156.40,90.70) scale(1.100,0.978)" d="M0,0 L8,0 L2.6,18"/></g><g class="dg" stroke-width="2.10"><path transform="translate(199.10,90.70) scale(1.100,0.978)" d="M4,8.2 C1.6,8.2 0.5,6.8 0.5,4.2 C0.5,1.4 1.7,0 4,0 C6.3,0 7.5,1.4 7.5,4.2 C7.5,6.8 6.4,8.2 4,8.2 C1.4,8.2 0,9.8 0,13 C0,16.4 1.4,18 4,18 C6.6,18 8,16.4 8,13 C8,9.8 6.6,8.2 4,8.2 Z"/><path transform="translate(211.90,90.70) scale(1.100,0.978)" d="M6.6,0 C2.5,2.6 0,6.5 0,12.4 C0,16.4 1.4,18 4,18 C6.6,18 8,16.4 8,12.6 C8,9 6.6,7.2 4,7.2 C1.8,7.2 0.4,8.6 0,11.4"/></g><g class="dg" stroke-width="2.10"><path transform="translate(362.60,90.70) scale(1.100,0.978)" d="M4,8.2 C1.6,8.2 0.5,6.8 0.5,4.2 C0.5,1.4 1.7,0 4,0 C6.3,0 7.5,1.4 7.5,4.2 C7.5,6.8 6.4,8.2 4,8.2 C1.4,8.2 0,9.8 0,13 C0,16.4 1.4,18 4,18 C6.6,18 8,16.4 8,13 C8,9.8 6.6,8.2 4,8.2 Z"/><path transform="translate(375.40,90.70) scale(1.100,0.978)" d="M7.6,0 L0.8,0 L0,8 C1.5,6.8 2.6,6.4 4,6.4 C6.6,6.4 8,8.2 8,12.2 C8,16.2 6.6,18 4,18 C1.4,18 0,16.6 0,14.2"/></g><g class="dg" stroke-width="2.10"><path transform="translate(542.60,90.70) scale(1.100,0.978)" d="M4,8.2 C1.6,8.2 0.5,6.8 0.5,4.2 C0.5,1.4 1.7,0 4,0 C6.3,0 7.5,1.4 7.5,4.2 C7.5,6.8 6.4,8.2 4,8.2 C1.4,8.2 0,9.8 0,13 C0,16.4 1.4,18 4,18 C6.6,18 8,16.4 8,13 C8,9.8 6.6,8.2 4,8.2 Z"/><path transform="translate(555.40,90.70) scale(1.100,0.978)" d="M6,0 L0,12.6 L9.8,12.6 M7.2,7.5 L7.2,18"/></g>
<g class="dg" stroke-width="2.10"><path transform="translate(96.10,291.20) scale(1.100,0.978)" d="M4,8.2 C1.6,8.2 0.5,6.8 0.5,4.2 C0.5,1.4 1.7,0 4,0 C6.3,0 7.5,1.4 7.5,4.2 C7.5,6.8 6.4,8.2 4,8.2 C1.4,8.2 0,9.8 0,13 C0,16.4 1.4,18 4,18 C6.6,18 8,16.4 8,13 C8,9.8 6.6,8.2 4,8.2 Z"/><path transform="translate(108.90,291.20) scale(1.100,0.978)" d="M1.4,18 C5.5,15.4 8,11.5 8,5.6 C8,1.6 6.6,0 4,0 C1.4,0 0,1.6 0,5.4 C0,9 1.4,10.8 4,10.8 C6.2,10.8 7.6,9.4 8,6.6"/></g><g class="dg" stroke-width="2.10"><path transform="translate(140.10,291.20) scale(1.100,0.978)" d="M4,8.2 C1.6,8.2 0.5,6.8 0.5,4.2 C0.5,1.4 1.7,0 4,0 C6.3,0 7.5,1.4 7.5,4.2 C7.5,6.8 6.4,8.2 4,8.2 C1.4,8.2 0,9.8 0,13 C0,16.4 1.4,18 4,18 C6.6,18 8,16.4 8,13 C8,9.8 6.6,8.2 4,8.2 Z"/><path transform="translate(152.90,291.20) scale(1.100,0.978)" d="M4,8.2 C1.6,8.2 0.5,6.8 0.5,4.2 C0.5,1.4 1.7,0 4,0 C6.3,0 7.5,1.4 7.5,4.2 C7.5,6.8 6.4,8.2 4,8.2 C1.4,8.2 0,9.8 0,13 C0,16.4 1.4,18 4,18 C6.6,18 8,16.4 8,13 C8,9.8 6.6,8.2 4,8.2 Z"/></g>
<g class="dg" stroke-width="2.10"><path transform="translate(828.10,91.70) scale(1.100,0.978)" d="M4,8.2 C1.6,8.2 0.5,6.8 0.5,4.2 C0.5,1.4 1.7,0 4,0 C6.3,0 7.5,1.4 7.5,4.2 C7.5,6.8 6.4,8.2 4,8.2 C1.4,8.2 0,9.8 0,13 C0,16.4 1.4,18 4,18 C6.6,18 8,16.4 8,13 C8,9.8 6.6,8.2 4,8.2 Z"/><path transform="translate(840.90,91.70) scale(1.100,0.978)" d="M0,0 L8,0 L3.4,7.2 C6.6,7.2 8,9 8,12.6 C8,16.4 6.6,18 4,18 C1.4,18 0,16.6 0,14.2"/></g><g class="dg" stroke-width="2.10"><path transform="translate(860.10,91.70) scale(1.100,0.978)" d="M4,8.2 C1.6,8.2 0.5,6.8 0.5,4.2 C0.5,1.4 1.7,0 4,0 C6.3,0 7.5,1.4 7.5,4.2 C7.5,6.8 6.4,8.2 4,8.2 C1.4,8.2 0,9.8 0,13 C0,16.4 1.4,18 4,18 C6.6,18 8,16.4 8,13 C8,9.8 6.6,8.2 4,8.2 Z"/><path transform="translate(872.90,91.70) scale(1.100,0.978)" d="M0,4 C0,1.4 1.4,0 4,0 C6.6,0 8,1.4 8,4 C8,6.5 6.5,8.5 0,18 L8,18"/></g><g class="dg" stroke-width="2.10"><path transform="translate(860.10,210.20) scale(1.100,0.978)" d="M0,4 C0,1.4 1.4,0 4,0 C6.6,0 8,1.4 8,4 C8,6.5 6.5,8.5 0,18 L8,18"/><path transform="translate(872.90,210.20) scale(1.100,0.978)" d="M6,0 L0,12.6 L9.8,12.6 M7.2,7.5 L7.2,18"/></g><g class="dg" stroke-width="2.10"><path transform="translate(904.60,210.20) scale(1.100,0.978)" d="M1.4,18 C5.5,15.4 8,11.5 8,5.6 C8,1.6 6.6,0 4,0 C1.4,0 0,1.6 0,5.4 C0,9 1.4,10.8 4,10.8 C6.2,10.8 7.6,9.4 8,6.6"/></g>
<g class="dg" stroke-width="2.10"><path transform="translate(698.10,326.20) scale(1.100,0.978)" d="M1.4,18 C5.5,15.4 8,11.5 8,5.6 C8,1.6 6.6,0 4,0 C1.4,0 0,1.6 0,5.4 C0,9 1.4,10.8 4,10.8 C6.2,10.8 7.6,9.4 8,6.6"/><path transform="translate(710.90,326.20) scale(1.100,0.978)" d="M0,4.2 C0,1.4 1.4,0 4,0 C6.6,0 8,1.4 8,4.2 L8,13.8 C8,16.6 6.6,18 4,18 C1.4,18 0,16.6 0,13.8 Z"/></g><g class="dg" stroke-width="2.10"><path transform="translate(777.60,311.20) scale(1.100,0.978)" d="M1.4,18 C5.5,15.4 8,11.5 8,5.6 C8,1.6 6.6,0 4,0 C1.4,0 0,1.6 0,5.4 C0,9 1.4,10.8 4,10.8 C6.2,10.8 7.6,9.4 8,6.6"/><path transform="translate(790.40,311.20) scale(1.100,0.978)" d="M0,5 L4,0 L4,18"/></g>
<path class="ld" d="M145,113.7 H165 L196.700,272.5 M200,113.7 H223.7 L240,220 M362.5,113.7 H385 L411.2,203.7 M541,113.7 H566 L604.5,235 M96.2,312.5 H118 L136.2,344.5 M140.5,312.5 H162.5 L188.7,353.7
M850,113.2 H827 L810,171.2 M882.5,113.2 H858.7 L846.2,165 M883.7,232 H858.7 L846.2,191.2 M913.7,232 H903 L886.2,163.7
M718,345.7 H695 L673.7,318.7 M776,333.2 H795 L806.2,387.5"/>
</g>

<!-- 81_labels_b.svg -->
<g id="labels_b">
<g class="dg" stroke-width="2.10"><path transform="translate(972.60,172.20) scale(1.100,0.978)" d="M0,0 L8,0 L2.6,18"/><path transform="translate(985.40,172.20) scale(1.100,0.978)" d="M4,8.2 C1.6,8.2 0.5,6.8 0.5,4.2 C0.5,1.4 1.7,0 4,0 C6.3,0 7.5,1.4 7.5,4.2 C7.5,6.8 6.4,8.2 4,8.2 C1.4,8.2 0,9.8 0,13 C0,16.4 1.4,18 4,18 C6.6,18 8,16.4 8,13 C8,9.8 6.6,8.2 4,8.2 Z"/></g><g class="dg" stroke-width="2.10"><path transform="translate(972.60,210.70) scale(1.100,0.978)" d="M4,8.2 C1.6,8.2 0.5,6.8 0.5,4.2 C0.5,1.4 1.7,0 4,0 C6.3,0 7.5,1.4 7.5,4.2 C7.5,6.8 6.4,8.2 4,8.2 C1.4,8.2 0,9.8 0,13 C0,16.4 1.4,18 4,18 C6.6,18 8,16.4 8,13 C8,9.8 6.6,8.2 4,8.2 Z"/><path transform="translate(985.40,210.70) scale(1.100,0.978)" d="M0,4.2 C0,1.4 1.4,0 4,0 C6.6,0 8,1.4 8,4.2 L8,13.8 C8,16.6 6.6,18 4,18 C1.4,18 0,16.6 0,13.8 Z"/></g><g class="dg" stroke-width="2.10"><path transform="translate(976.10,257.70) scale(1.100,0.978)" d="M4,8.2 C1.6,8.2 0.5,6.8 0.5,4.2 C0.5,1.4 1.7,0 4,0 C6.3,0 7.5,1.4 7.5,4.2 C7.5,6.8 6.4,8.2 4,8.2 C1.4,8.2 0,9.8 0,13 C0,16.4 1.4,18 4,18 C6.6,18 8,16.4 8,13 C8,9.8 6.6,8.2 4,8.2 Z"/><path transform="translate(988.90,257.70) scale(1.100,0.978)" d="M0,5 L4,0 L4,18"/></g><g class="dg" stroke-width="2.10"><path transform="translate(972.60,321.20) scale(1.100,0.978)" d="M0,0 L8,0 L2.6,18"/><path transform="translate(985.40,321.20) scale(1.100,0.978)" d="M0,0 L8,0 L2.6,18"/></g><g class="dg" stroke-width="2.10"><path transform="translate(972.60,390.20) scale(1.100,0.978)" d="M6.6,0 C2.5,2.6 0,6.5 0,12.4 C0,16.4 1.4,18 4,18 C6.6,18 8,16.4 8,12.6 C8,9 6.6,7.2 4,7.2 C1.8,7.2 0.4,8.6 0,11.4"/><path transform="translate(985.40,390.20) scale(1.100,0.978)" d="M0,4.2 C0,1.4 1.4,0 4,0 C6.6,0 8,1.4 8,4.2 L8,13.8 C8,16.6 6.6,18 4,18 C1.4,18 0,16.6 0,13.8 Z"/></g>
<g class="dg" stroke-width="2.10"><path transform="translate(1101.60,184.20) scale(1.100,0.978)" d="M0,0 L8,0 L2.6,18"/><path transform="translate(1114.40,184.20) scale(1.100,0.978)" d="M1.4,18 C5.5,15.4 8,11.5 8,5.6 C8,1.6 6.6,0 4,0 C1.4,0 0,1.6 0,5.4 C0,9 1.4,10.8 4,10.8 C6.2,10.8 7.6,9.4 8,6.6"/></g><g class="dg" stroke-width="2.10"><path transform="translate(1180.60,134.20) scale(1.100,0.978)" d="M0,0 L8,0 L2.6,18"/><path transform="translate(1193.40,134.20) scale(1.100,0.978)" d="M0,4 C0,1.4 1.4,0 4,0 C6.6,0 8,1.4 8,4 C8,6.5 6.5,8.5 0,18 L8,18"/></g><g class="dg" stroke-width="2.10"><path transform="translate(1159.60,229.70) scale(1.100,0.978)" d="M0,0 L8,0 L2.6,18"/><path transform="translate(1172.40,229.70) scale(1.100,0.978)" d="M6,0 L0,12.6 L9.8,12.6 M7.2,7.5 L7.2,18"/></g><g class="dg" stroke-width="2.10"><path transform="translate(1208.10,289.20) scale(1.100,0.978)" d="M0,0 L8,0 L2.6,18"/><path transform="translate(1220.90,289.20) scale(1.100,0.978)" d="M0,0 L8,0 L3.4,7.2 C6.6,7.2 8,9 8,12.6 C8,16.4 6.6,18 4,18 C1.4,18 0,16.6 0,14.2"/></g><g class="dg" stroke-width="2.10"><path transform="translate(1160.60,288.20) scale(1.100,0.978)" d="M0,0 L8,0 L2.6,18"/><path transform="translate(1173.40,288.20) scale(1.100,0.978)" d="M7.6,0 L0.8,0 L0,8 C1.5,6.8 2.6,6.4 4,6.4 C6.6,6.4 8,8.2 8,12.2 C8,16.2 6.6,18 4,18 C1.4,18 0,16.6 0,14.2"/></g><g class="dg" stroke-width="2.10"><path transform="translate(1160.10,357.70) scale(1.100,0.978)" d="M0,0 L8,0 L2.6,18"/><path transform="translate(1172.90,357.70) scale(1.100,0.978)" d="M6.6,0 C2.5,2.6 0,6.5 0,12.4 C0,16.4 1.4,18 4,18 C6.6,18 8,16.4 8,12.6 C8,9 6.6,7.2 4,7.2 C1.8,7.2 0.4,8.6 0,11.4"/></g>
<g class="dg" stroke-width="2.10"><path transform="translate(1246.10,134.20) scale(1.100,0.978)" d="M0,0 L8,0 L2.6,18"/><path transform="translate(1258.90,134.20) scale(1.100,0.978)" d="M0,5 L4,0 L4,18"/></g><g class="dg" stroke-width="2.10"><path transform="translate(1314.10,134.20) scale(1.100,0.978)" d="M0,0 L8,0 L2.6,18"/><path transform="translate(1326.90,134.20) scale(1.100,0.978)" d="M0,4.2 C0,1.4 1.4,0 4,0 C6.6,0 8,1.4 8,4.2 L8,13.8 C8,16.6 6.6,18 4,18 C1.4,18 0,16.6 0,13.8 Z"/></g><g class="dg" stroke-width="2.10"><path transform="translate(1361.10,134.20) scale(1.100,0.978)" d="M6.6,0 C2.5,2.6 0,6.5 0,12.4 C0,16.4 1.4,18 4,18 C6.6,18 8,16.4 8,12.6 C8,9 6.6,7.2 4,7.2 C1.8,7.2 0.4,8.6 0,11.4"/><path transform="translate(1373.90,134.20) scale(1.100,0.978)" d="M1.4,18 C5.5,15.4 8,11.5 8,5.6 C8,1.6 6.6,0 4,0 C1.4,0 0,1.6 0,5.4 C0,9 1.4,10.8 4,10.8 C6.2,10.8 7.6,9.4 8,6.6"/></g><g class="dg" stroke-width="2.10"><path transform="translate(1404.10,134.20) scale(1.100,0.978)" d="M6.6,0 C2.5,2.6 0,6.5 0,12.4 C0,16.4 1.4,18 4,18 C6.6,18 8,16.4 8,12.6 C8,9 6.6,7.2 4,7.2 C1.8,7.2 0.4,8.6 0,11.4"/><path transform="translate(1416.90,134.20) scale(1.100,0.978)" d="M4,8.2 C1.6,8.2 0.5,6.8 0.5,4.2 C0.5,1.4 1.7,0 4,0 C6.3,0 7.5,1.4 7.5,4.2 C7.5,6.8 6.4,8.2 4,8.2 C1.4,8.2 0,9.8 0,13 C0,16.4 1.4,18 4,18 C6.6,18 8,16.4 8,13 C8,9.8 6.6,8.2 4,8.2 Z"/></g><g class="dg" stroke-width="2.10"><path transform="translate(1453.10,247.20) scale(1.100,0.978)" d="M6.6,0 C2.5,2.6 0,6.5 0,12.4 C0,16.4 1.4,18 4,18 C6.6,18 8,16.4 8,12.6 C8,9 6.6,7.2 4,7.2 C1.8,7.2 0.4,8.6 0,11.4"/><path transform="translate(1465.90,247.20) scale(1.100,0.978)" d="M0,0 L8,0 L2.6,18"/></g><g class="dg" stroke-width="2.10"><path transform="translate(1453.10,320.70) scale(1.100,0.978)" d="M6.6,0 C2.5,2.6 0,6.5 0,12.4 C0,16.4 1.4,18 4,18 C6.6,18 8,16.4 8,12.6 C8,9 6.6,7.2 4,7.2 C1.8,7.2 0.4,8.6 0,11.4"/><path transform="translate(1465.90,320.70) scale(1.100,0.978)" d="M6.6,0 C2.5,2.6 0,6.5 0,12.4 C0,16.4 1.4,18 4,18 C6.6,18 8,16.4 8,12.6 C8,9 6.6,7.2 4,7.2 C1.8,7.2 0.4,8.6 0,11.4"/></g>
<g class="dg" stroke-width="2.10"><path transform="translate(1261.60,384.70) scale(1.100,0.978)" d="M6.6,0 C2.5,2.6 0,6.5 0,12.4 C0,16.4 1.4,18 4,18 C6.6,18 8,16.4 8,12.6 C8,9 6.6,7.2 4,7.2 C1.8,7.2 0.4,8.6 0,11.4"/><path transform="translate(1274.40,384.70) scale(1.100,0.978)" d="M6,0 L0,12.6 L9.8,12.6 M7.2,7.5 L7.2,18"/></g><g class="dg" stroke-width="2.10"><path transform="translate(1261.60,420.70) scale(1.100,0.978)" d="M0,0 L8,0 L3.4,7.2 C6.6,7.2 8,9 8,12.6 C8,16.4 6.6,18 4,18 C1.4,18 0,16.6 0,14.2"/><path transform="translate(1274.40,420.70) scale(1.100,0.978)" d="M0,5 L4,0 L4,18"/></g><g class="dg" stroke-width="2.10"><path transform="translate(1261.60,467.20) scale(1.100,0.978)" d="M6.6,0 C2.5,2.6 0,6.5 0,12.4 C0,16.4 1.4,18 4,18 C6.6,18 8,16.4 8,12.6 C8,9 6.6,7.2 4,7.2 C1.8,7.2 0.4,8.6 0,11.4"/><path transform="translate(1274.40,467.20) scale(1.100,0.978)" d="M0,0 L8,0 L3.4,7.2 C6.6,7.2 8,9 8,12.6 C8,16.4 6.6,18 4,18 C1.4,18 0,16.6 0,14.2"/></g><g class="dg" stroke-width="2.10"><path transform="translate(1261.60,513.70) scale(1.100,0.978)" d="M6.6,0 C2.5,2.6 0,6.5 0,12.4 C0,16.4 1.4,18 4,18 C6.6,18 8,16.4 8,12.6 C8,9 6.6,7.2 4,7.2 C1.8,7.2 0.4,8.6 0,11.4"/><path transform="translate(1274.40,513.70) scale(1.100,0.978)" d="M0,4 C0,1.4 1.4,0 4,0 C6.6,0 8,1.4 8,4 C8,6.5 6.5,8.5 0,18 L8,18"/></g><g class="dg" stroke-width="2.10"><path transform="translate(1453.10,414.20) scale(1.100,0.978)" d="M6.6,0 C2.5,2.6 0,6.5 0,12.4 C0,16.4 1.4,18 4,18 C6.6,18 8,16.4 8,12.6 C8,9 6.6,7.2 4,7.2 C1.8,7.2 0.4,8.6 0,11.4"/><path transform="translate(1465.90,414.20) scale(1.100,0.978)" d="M7.6,0 L0.8,0 L0,8 C1.5,6.8 2.6,6.4 4,6.4 C6.6,6.4 8,8.2 8,12.2 C8,16.2 6.6,18 4,18 C1.4,18 0,16.6 0,14.2"/></g>
<g class="dg" stroke-width="2.10"><path transform="translate(1014.60,535.20) scale(1.100,0.978)" d="M7.6,0 L0.8,0 L0,8 C1.5,6.8 2.6,6.4 4,6.4 C6.6,6.4 8,8.2 8,12.2 C8,16.2 6.6,18 4,18 C1.4,18 0,16.6 0,14.2"/><path transform="translate(1027.40,535.20) scale(1.100,0.978)" d="M4,8.2 C1.6,8.2 0.5,6.8 0.5,4.2 C0.5,1.4 1.7,0 4,0 C6.3,0 7.5,1.4 7.5,4.2 C7.5,6.8 6.4,8.2 4,8.2 C1.4,8.2 0,9.8 0,13 C0,16.4 1.4,18 4,18 C6.6,18 8,16.4 8,13 C8,9.8 6.6,8.2 4,8.2 Z"/></g><g class="dg" stroke-width="2.10"><path transform="translate(1086.10,535.20) scale(1.100,0.978)" d="M7.6,0 L0.8,0 L0,8 C1.5,6.8 2.6,6.4 4,6.4 C6.6,6.4 8,8.2 8,12.2 C8,16.2 6.6,18 4,18 C1.4,18 0,16.6 0,14.2"/><path transform="translate(1098.90,535.20) scale(1.100,0.978)" d="M1.4,18 C5.5,15.4 8,11.5 8,5.6 C8,1.6 6.6,0 4,0 C1.4,0 0,1.6 0,5.4 C0,9 1.4,10.8 4,10.8 C6.2,10.8 7.6,9.4 8,6.6"/></g><g class="dg" stroke-width="2.10"><path transform="translate(1158.60,535.20) scale(1.100,0.978)" d="M6.6,0 C2.5,2.6 0,6.5 0,12.4 C0,16.4 1.4,18 4,18 C6.6,18 8,16.4 8,12.6 C8,9 6.6,7.2 4,7.2 C1.8,7.2 0.4,8.6 0,11.4"/><path transform="translate(1171.40,535.20) scale(1.100,0.978)" d="M0,5 L4,0 L4,18"/></g>
<path class="ld" d="M972,194.400 H995 L1049.600,161 M972,231.600 H994 L1058,243 M976,279.400 H995 L1018,266 M972,343.500 H994.400 L1072,299.500 M971,412.500 H994.800 L1043.300,379.800
M1124,206.600 H1101.600 L1107,220 M1180,156 H1202 L1215,220 M1182.400,251.600 H1159 L1125,292 M1230,311 H1207 L1193,277 M1183,310.500 H1160 L1138,345 M1182.200,379.800 H1158.800 L1151.800,399.700
M1245,156.600 H1265 L1284,258 M1334,156.600 H1315 L1291,225 M1385,156.600 H1360 L1342,260 M1427,156.600 H1404 L1381,244 M1475,269.600 H1452 L1428,228 M1476,343 H1452 L1430,315
M1284.800,406.700 H1260.300 L1235.800,360 M1279,443.500 H1260.300 L1227.700,389.200 M1283.700,489.500 H1260.300 L1185.700,448.700 M1283.700,536.200 H1260.300 L1225.300,512.800 M1476,437 H1452 L1356,376
M1038.700,557.200 H1013.500 L997.800,519.800 M1108.700,557.200 H1084.900 L1052.700,505.800 M1179.800,557.200 H1157.700 L1085.300,447.500"/>
<path class="ld2" d="M1043.300,376.300 V344.800 H1112.200 V354.200 M1088.100,318 V344.800" style="stroke:#8c8cff"/>
</g>

<!-- 82_labels_c.svg -->
<g id="labels_c">
<g class="dg" stroke-width="2.10"><path transform="translate(17.10,567.00) scale(1.100,0.978)" d="M0,18 L4.8,0 L9.6,18 M1.5,12.4 L8.1,12.4"/><path transform="translate(33.50,567.00) scale(1.100,0.978)" d="M0,5 L4,0 L4,18"/></g>
<g class="dg" stroke-width="2.10"><path transform="translate(122.60,466.20) scale(1.100,0.978)" d="M0,5 L4,0 L4,18"/></g><g class="dg" stroke-width="2.10"><path transform="translate(167.10,450.20) scale(1.100,0.978)" d="M0,4 C0,1.4 1.4,0 4,0 C6.6,0 8,1.4 8,4 C8,6.5 6.5,8.5 0,18 L8,18"/></g><g class="dg" stroke-width="2.10"><path transform="translate(261.10,419.70) scale(1.100,0.978)" d="M0,0 L8,0 L3.4,7.2 C6.6,7.2 8,9 8,12.6 C8,16.4 6.6,18 4,18 C1.4,18 0,16.6 0,14.2"/></g><g class="dg" stroke-width="2.10"><path transform="translate(349.10,391.70) scale(1.100,0.978)" d="M6,0 L0,12.6 L9.8,12.6 M7.2,7.5 L7.2,18"/></g><g class="dg" stroke-width="2.10"><path transform="translate(395.10,375.70) scale(1.100,0.978)" d="M7.6,0 L0.8,0 L0,8 C1.5,6.8 2.6,6.4 4,6.4 C6.6,6.4 8,8.2 8,12.2 C8,16.2 6.6,18 4,18 C1.4,18 0,16.6 0,14.2"/></g><g class="dg" stroke-width="2.10"><path transform="translate(439.10,361.70) scale(1.100,0.978)" d="M6.6,0 C2.5,2.6 0,6.5 0,12.4 C0,16.4 1.4,18 4,18 C6.6,18 8,16.4 8,12.6 C8,9 6.6,7.2 4,7.2 C1.8,7.2 0.4,8.6 0,11.4"/></g>
<g class="dg" stroke-width="2.10"><path transform="translate(543.60,508.20) scale(1.100,0.978)" d="M0,0 L8,0 L2.6,18"/></g><g class="dg" stroke-width="2.10"><path transform="translate(574.10,508.20) scale(1.100,0.978)" d="M4,8.2 C1.6,8.2 0.5,6.8 0.5,4.2 C0.5,1.4 1.7,0 4,0 C6.3,0 7.5,1.4 7.5,4.2 C7.5,6.8 6.4,8.2 4,8.2 C1.4,8.2 0,9.8 0,13 C0,16.4 1.4,18 4,18 C6.6,18 8,16.4 8,13 C8,9.8 6.6,8.2 4,8.2 Z"/></g><g class="dg" stroke-width="2.10"><path transform="translate(601.10,508.20) scale(1.100,0.978)" d="M1.4,18 C5.5,15.4 8,11.5 8,5.6 C8,1.6 6.6,0 4,0 C1.4,0 0,1.6 0,5.4 C0,9 1.4,10.8 4,10.8 C6.2,10.8 7.6,9.4 8,6.6"/></g>
<g class="dg" stroke-width="2.10"><path transform="translate(593.10,417.70) scale(1.100,0.978)" d="M0,5 L4,0 L4,18"/><path transform="translate(601.70,417.70) scale(1.100,0.978)" d="M0,4.2 C0,1.4 1.4,0 4,0 C6.6,0 8,1.4 8,4.2 L8,13.8 C8,16.6 6.6,18 4,18 C1.4,18 0,16.6 0,13.8 Z"/></g><g class="dg" stroke-width="2.10"><path transform="translate(593.10,376.20) scale(1.100,0.978)" d="M0,5 L4,0 L4,18"/><path transform="translate(601.70,376.20) scale(1.100,0.978)" d="M0,5 L4,0 L4,18"/></g><g class="dg" stroke-width="2.10"><path transform="translate(593.60,327.70) scale(1.100,0.978)" d="M0,5 L4,0 L4,18"/><path transform="translate(602.20,327.70) scale(1.100,0.978)" d="M0,4 C0,1.4 1.4,0 4,0 C6.6,0 8,1.4 8,4 C8,6.5 6.5,8.5 0,18 L8,18"/></g>
<path class="ld2" d="M83,517 L538.700,367.500 V317 H626.200 V532.500 L83,708 Z M104,536 H140 M104,536 V642 H210 M104,612 H136"/>
<path class="ld" d="M83.200,612 L37.600,590 H17.200
M121,488.600 H128 L146,533 M166,472.400 H176 L194,508 M261,441.500 H269 L294,486 M348,412 H360 L400,507 M395,397.600 H404 L453,481 M438,383.600 H449 L493,468
M551,529.600 H542 L530,479 M582,529.600 H573 L551,460 M610,529.600 H600 L574,455
M609,439.600 H592 L563,410 M606,398.400 H592 L547,388 M610,350 H592 L550,366"/>
</g>

<!-- 83_labels_d.svg -->
<g id="labels_d">
<g class="dg" stroke-width="2.10"><path transform="translate(284.10,930.20) scale(1.100,0.978)" d="M0,4 C0,1.4 1.4,0 4,0 C6.6,0 8,1.4 8,4 C8,6.5 6.5,8.5 0,18 L8,18"/><path transform="translate(296.90,930.20) scale(1.100,0.978)" d="M0,4 C0,1.4 1.4,0 4,0 C6.6,0 8,1.4 8,4 C8,6.5 6.5,8.5 0,18 L8,18"/></g><g class="dg" stroke-width="2.10"><path transform="translate(398.60,926.70) scale(1.100,0.978)" d="M0,4 C0,1.4 1.4,0 4,0 C6.6,0 8,1.4 8,4 C8,6.5 6.5,8.5 0,18 L8,18"/><path transform="translate(411.40,926.70) scale(1.100,0.978)" d="M6,0 L0,12.6 L9.8,12.6 M7.2,7.5 L7.2,18"/></g><g class="dg" stroke-width="2.10"><path transform="translate(480.10,926.70) scale(1.100,0.978)" d="M0,4 C0,1.4 1.4,0 4,0 C6.6,0 8,1.4 8,4 C8,6.5 6.5,8.5 0,18 L8,18"/><path transform="translate(492.90,926.70) scale(1.100,0.978)" d="M7.6,0 L0.8,0 L0,8 C1.5,6.8 2.6,6.4 4,6.4 C6.6,6.4 8,8.2 8,12.2 C8,16.2 6.6,18 4,18 C1.4,18 0,16.6 0,14.2"/></g><g class="dg" stroke-width="2.10"><path transform="translate(186.10,957.20) scale(1.100,0.978)" d="M0,4 C0,1.4 1.4,0 4,0 C6.6,0 8,1.4 8,4 C8,6.5 6.5,8.5 0,18 L8,18"/><path transform="translate(198.90,957.20) scale(1.100,0.978)" d="M0,5 L4,0 L4,18"/></g><g class="dg" stroke-width="2.10"><path transform="translate(186.10,985.70) scale(1.100,0.978)" d="M0,4 C0,1.4 1.4,0 4,0 C6.6,0 8,1.4 8,4 C8,6.5 6.5,8.5 0,18 L8,18"/><path transform="translate(198.90,985.70) scale(1.100,0.978)" d="M0,4.2 C0,1.4 1.4,0 4,0 C6.6,0 8,1.4 8,4.2 L8,13.8 C8,16.6 6.6,18 4,18 C1.4,18 0,16.6 0,13.8 Z"/></g><g class="dg" stroke-width="2.10"><path transform="translate(283.10,968.20) scale(1.100,0.978)" d="M0,4 C0,1.4 1.4,0 4,0 C6.6,0 8,1.4 8,4 C8,6.5 6.5,8.5 0,18 L8,18"/><path transform="translate(295.90,968.20) scale(1.100,0.978)" d="M0,0 L8,0 L3.4,7.2 C6.6,7.2 8,9 8,12.6 C8,16.4 6.6,18 4,18 C1.4,18 0,16.6 0,14.2"/></g><g class="dg" stroke-width="2.10"><path transform="translate(189.10,1066.70) scale(1.100,0.978)" d="M0,5 L4,0 L4,18"/><path transform="translate(197.70,1066.70) scale(1.100,0.978)" d="M1.4,18 C5.5,15.4 8,11.5 8,5.6 C8,1.6 6.6,0 4,0 C1.4,0 0,1.6 0,5.4 C0,9 1.4,10.8 4,10.8 C6.2,10.8 7.6,9.4 8,6.6"/></g><g class="dg" stroke-width="2.10"><path transform="translate(190.10,1098.70) scale(1.100,0.978)" d="M0,5 L4,0 L4,18"/><path transform="translate(198.70,1098.70) scale(1.100,0.978)" d="M4,8.2 C1.6,8.2 0.5,6.8 0.5,4.2 C0.5,1.4 1.7,0 4,0 C6.3,0 7.5,1.4 7.5,4.2 C7.5,6.8 6.4,8.2 4,8.2 C1.4,8.2 0,9.8 0,13 C0,16.4 1.4,18 4,18 C6.6,18 8,16.4 8,13 C8,9.8 6.6,8.2 4,8.2 Z"/></g>
<g class="dg" stroke-width="2.10"><path transform="translate(543.60,926.70) scale(1.100,0.978)" d="M0,4 C0,1.4 1.4,0 4,0 C6.6,0 8,1.4 8,4 C8,6.5 6.5,8.5 0,18 L8,18"/><path transform="translate(556.40,926.70) scale(1.100,0.978)" d="M6.6,0 C2.5,2.6 0,6.5 0,12.4 C0,16.4 1.4,18 4,18 C6.6,18 8,16.4 8,12.6 C8,9 6.6,7.2 4,7.2 C1.8,7.2 0.4,8.6 0,11.4"/></g><g class="dg" stroke-width="2.10"><path transform="translate(574.60,926.70) scale(1.100,0.978)" d="M0,4 C0,1.4 1.4,0 4,0 C6.6,0 8,1.4 8,4 C8,6.5 6.5,8.5 0,18 L8,18"/><path transform="translate(587.40,926.70) scale(1.100,0.978)" d="M0,0 L8,0 L2.6,18"/></g><g class="dg" stroke-width="2.10"><path transform="translate(608.60,926.70) scale(1.100,0.978)" d="M0,4 C0,1.4 1.4,0 4,0 C6.6,0 8,1.4 8,4 C8,6.5 6.5,8.5 0,18 L8,18"/><path transform="translate(621.40,926.70) scale(1.100,0.978)" d="M4,8.2 C1.6,8.2 0.5,6.8 0.5,4.2 C0.5,1.4 1.7,0 4,0 C6.3,0 7.5,1.4 7.5,4.2 C7.5,6.8 6.4,8.2 4,8.2 C1.4,8.2 0,9.8 0,13 C0,16.4 1.4,18 4,18 C6.6,18 8,16.4 8,13 C8,9.8 6.6,8.2 4,8.2 Z"/></g><g class="dg" stroke-width="2.10"><path transform="translate(655.60,926.70) scale(1.100,0.978)" d="M0,0 L8,0 L3.4,7.2 C6.6,7.2 8,9 8,12.6 C8,16.4 6.6,18 4,18 C1.4,18 0,16.6 0,14.2"/><path transform="translate(668.40,926.70) scale(1.100,0.978)" d="M0,5 L4,0 L4,18"/></g><g class="dg" stroke-width="2.10"><path transform="translate(717.60,926.70) scale(1.100,0.978)" d="M0,4 C0,1.4 1.4,0 4,0 C6.6,0 8,1.4 8,4 C8,6.5 6.5,8.5 0,18 L8,18"/><path transform="translate(730.40,926.70) scale(1.100,0.978)" d="M1.4,18 C5.5,15.4 8,11.5 8,5.6 C8,1.6 6.6,0 4,0 C1.4,0 0,1.6 0,5.4 C0,9 1.4,10.8 4,10.8 C6.2,10.8 7.6,9.4 8,6.6"/></g><g class="dg" stroke-width="2.10"><path transform="translate(754.60,926.70) scale(1.100,0.978)" d="M0,0 L8,0 L3.4,7.2 C6.6,7.2 8,9 8,12.6 C8,16.4 6.6,18 4,18 C1.4,18 0,16.6 0,14.2"/><path transform="translate(767.40,926.70) scale(1.100,0.978)" d="M0,4.2 C0,1.4 1.4,0 4,0 C6.6,0 8,1.4 8,4.2 L8,13.8 C8,16.6 6.6,18 4,18 C1.4,18 0,16.6 0,13.8 Z"/></g>
<g class="dg" stroke-width="2.10"><path transform="translate(656.10,975.70) scale(1.100,0.978)" d="M0,0 L8,0 L3.4,7.2 C6.6,7.2 8,9 8,12.6 C8,16.4 6.6,18 4,18 C1.4,18 0,16.6 0,14.2"/><path transform="translate(668.90,975.70) scale(1.100,0.978)" d="M0,4 C0,1.4 1.4,0 4,0 C6.6,0 8,1.4 8,4 C8,6.5 6.5,8.5 0,18 L8,18"/></g><g class="dg" stroke-width="2.10"><path transform="translate(656.10,1013.70) scale(1.100,0.978)" d="M0,0 L8,0 L3.4,7.2 C6.6,7.2 8,9 8,12.6 C8,16.4 6.6,18 4,18 C1.4,18 0,16.6 0,14.2"/><path transform="translate(668.90,1013.70) scale(1.100,0.978)" d="M0,0 L8,0 L3.4,7.2 C6.6,7.2 8,9 8,12.6 C8,16.4 6.6,18 4,18 C1.4,18 0,16.6 0,14.2"/></g><g class="dg" stroke-width="2.10"><path transform="translate(656.10,1097.20) scale(1.100,0.978)" d="M0,0 L8,0 L3.4,7.2 C6.6,7.2 8,9 8,12.6 C8,16.4 6.6,18 4,18 C1.4,18 0,16.6 0,14.2"/><path transform="translate(668.90,1097.20) scale(1.100,0.978)" d="M6,0 L0,12.6 L9.8,12.6 M7.2,7.5 L7.2,18"/></g><g class="dg" stroke-width="2.10"><path transform="translate(656.10,1128.70) scale(1.100,0.978)" d="M0,0 L8,0 L3.4,7.2 C6.6,7.2 8,9 8,12.6 C8,16.4 6.6,18 4,18 C1.4,18 0,16.6 0,14.2"/><path transform="translate(668.90,1128.70) scale(1.100,0.978)" d="M4,8.2 C1.6,8.2 0.5,6.8 0.5,4.2 C0.5,1.4 1.7,0 4,0 C6.3,0 7.5,1.4 7.5,4.2 C7.5,6.8 6.4,8.2 4,8.2 C1.4,8.2 0,9.8 0,13 C0,16.4 1.4,18 4,18 C6.6,18 8,16.4 8,13 C8,9.8 6.6,8.2 4,8.2 Z"/></g><g class="dg" stroke-width="2.10"><path transform="translate(656.10,1160.70) scale(1.100,0.978)" d="M0,0 L8,0 L3.4,7.2 C6.6,7.2 8,9 8,12.6 C8,16.4 6.6,18 4,18 C1.4,18 0,16.6 0,14.2"/><path transform="translate(668.90,1160.70) scale(1.100,0.978)" d="M1.4,18 C5.5,15.4 8,11.5 8,5.6 C8,1.6 6.6,0 4,0 C1.4,0 0,1.6 0,5.4 C0,9 1.4,10.8 4,10.8 C6.2,10.8 7.6,9.4 8,6.6"/></g><g class="dg" stroke-width="2.10"><path transform="translate(656.10,1191.20) scale(1.100,0.978)" d="M6,0 L0,12.6 L9.8,12.6 M7.2,7.5 L7.2,18"/><path transform="translate(670.50,1191.20) scale(1.100,0.978)" d="M0,4.2 C0,1.4 1.4,0 4,0 C6.6,0 8,1.4 8,4.2 L8,13.8 C8,16.6 6.6,18 4,18 C1.4,18 0,16.6 0,13.8 Z"/></g>
<g class="dg" stroke-width="2.10"><path transform="translate(546.10,1131.20) scale(1.100,0.978)" d="M0,0 L8,0 L3.4,7.2 C6.6,7.2 8,9 8,12.6 C8,16.4 6.6,18 4,18 C1.4,18 0,16.6 0,14.2"/><path transform="translate(558.90,1131.20) scale(1.100,0.978)" d="M6.6,0 C2.5,2.6 0,6.5 0,12.4 C0,16.4 1.4,18 4,18 C6.6,18 8,16.4 8,12.6 C8,9 6.6,7.2 4,7.2 C1.8,7.2 0.4,8.6 0,11.4"/></g><g class="dg" stroke-width="2.10"><path transform="translate(584.10,1131.20) scale(1.100,0.978)" d="M0,0 L8,0 L3.4,7.2 C6.6,7.2 8,9 8,12.6 C8,16.4 6.6,18 4,18 C1.4,18 0,16.6 0,14.2"/><path transform="translate(596.90,1131.20) scale(1.100,0.978)" d="M7.6,0 L0.8,0 L0,8 C1.5,6.8 2.6,6.4 4,6.4 C6.6,6.4 8,8.2 8,12.2 C8,16.2 6.6,18 4,18 C1.4,18 0,16.6 0,14.2"/></g>
<g class="dg" stroke-width="2.10"><path transform="translate(177.10,1246.20) scale(1.100,0.978)" d="M7.6,0 L0.8,0 L0,8 C1.5,6.8 2.6,6.4 4,6.4 C6.6,6.4 8,8.2 8,12.2 C8,16.2 6.6,18 4,18 C1.4,18 0,16.6 0,14.2"/><path transform="translate(189.90,1246.20) scale(1.100,0.978)" d="M0,4.2 C0,1.4 1.4,0 4,0 C6.6,0 8,1.4 8,4.2 L8,13.8 C8,16.6 6.6,18 4,18 C1.4,18 0,16.6 0,13.8 Z"/></g><g class="dg" stroke-width="2.10"><path transform="translate(223.60,1246.20) scale(1.100,0.978)" d="M6,0 L0,12.6 L9.8,12.6 M7.2,7.5 L7.2,18"/><path transform="translate(238.00,1246.20) scale(1.100,0.978)" d="M1.4,18 C5.5,15.4 8,11.5 8,5.6 C8,1.6 6.6,0 4,0 C1.4,0 0,1.6 0,5.4 C0,9 1.4,10.8 4,10.8 C6.2,10.8 7.6,9.4 8,6.6"/></g><g class="dg" stroke-width="2.10"><path transform="translate(280.10,1246.20) scale(1.100,0.978)" d="M6,0 L0,12.6 L9.8,12.6 M7.2,7.5 L7.2,18"/><path transform="translate(294.50,1246.20) scale(1.100,0.978)" d="M4,8.2 C1.6,8.2 0.5,6.8 0.5,4.2 C0.5,1.4 1.7,0 4,0 C6.3,0 7.5,1.4 7.5,4.2 C7.5,6.8 6.4,8.2 4,8.2 C1.4,8.2 0,9.8 0,13 C0,16.4 1.4,18 4,18 C6.6,18 8,16.4 8,13 C8,9.8 6.6,8.2 4,8.2 Z"/></g><g class="dg" stroke-width="2.10"><path transform="translate(332.10,1246.20) scale(1.100,0.978)" d="M6,0 L0,12.6 L9.8,12.6 M7.2,7.5 L7.2,18"/><path transform="translate(346.50,1246.20) scale(1.100,0.978)" d="M0,0 L8,0 L2.6,18"/></g><g class="dg" stroke-width="2.10"><path transform="translate(378.60,1246.20) scale(1.100,0.978)" d="M6,0 L0,12.6 L9.8,12.6 M7.2,7.5 L7.2,18"/><path transform="translate(393.00,1246.20) scale(1.100,0.978)" d="M6.6,0 C2.5,2.6 0,6.5 0,12.4 C0,16.4 1.4,18 4,18 C6.6,18 8,16.4 8,12.6 C8,9 6.6,7.2 4,7.2 C1.8,7.2 0.4,8.6 0,11.4"/></g><g class="dg" stroke-width="2.10"><path transform="translate(410.60,1246.20) scale(1.100,0.978)" d="M6,0 L0,12.6 L9.8,12.6 M7.2,7.5 L7.2,18"/><path transform="translate(425.00,1246.20) scale(1.100,0.978)" d="M7.6,0 L0.8,0 L0,8 C1.5,6.8 2.6,6.4 4,6.4 C6.6,6.4 8,8.2 8,12.2 C8,16.2 6.6,18 4,18 C1.4,18 0,16.6 0,14.2"/></g><g class="dg" stroke-width="2.10"><path transform="translate(478.60,1246.20) scale(1.100,0.978)" d="M6,0 L0,12.6 L9.8,12.6 M7.2,7.5 L7.2,18"/><path transform="translate(493.00,1246.20) scale(1.100,0.978)" d="M6,0 L0,12.6 L9.8,12.6 M7.2,7.5 L7.2,18"/></g><g class="dg" stroke-width="2.10"><path transform="translate(519.10,1246.20) scale(1.100,0.978)" d="M6,0 L0,12.6 L9.8,12.6 M7.2,7.5 L7.2,18"/><path transform="translate(533.50,1246.20) scale(1.100,0.978)" d="M0,0 L8,0 L3.4,7.2 C6.6,7.2 8,9 8,12.6 C8,16.4 6.6,18 4,18 C1.4,18 0,16.6 0,14.2"/></g><g class="dg" stroke-width="2.10"><path transform="translate(577.10,1246.20) scale(1.100,0.978)" d="M0,0 L8,0 L3.4,7.2 C6.6,7.2 8,9 8,12.6 C8,16.4 6.6,18 4,18 C1.4,18 0,16.6 0,14.2"/><path transform="translate(589.90,1246.20) scale(1.100,0.978)" d="M0,0 L8,0 L2.6,18"/></g><g class="dg" stroke-width="2.10"><path transform="translate(616.60,1246.20) scale(1.100,0.978)" d="M6,0 L0,12.6 L9.8,12.6 M7.2,7.5 L7.2,18"/><path transform="translate(631.00,1246.20) scale(1.100,0.978)" d="M0,4 C0,1.4 1.4,0 4,0 C6.6,0 8,1.4 8,4 C8,6.5 6.5,8.5 0,18 L8,18"/></g><g class="dg" stroke-width="2.10"><path transform="translate(655.60,1246.20) scale(1.100,0.978)" d="M6,0 L0,12.6 L9.8,12.6 M7.2,7.5 L7.2,18"/><path transform="translate(670.00,1246.20) scale(1.100,0.978)" d="M0,5 L4,0 L4,18"/></g>
<path class="ld" d="M283.600,952 H306 L353,1067 M420,949.600 H398 L377,1086 M479,949.600 H503 L473,1040 M186,979 H204 L294,1029 M185.600,1007 H206 L298,1052 M283,989.400 H305.600 L343,1094 M189,1087.600 H206 L278,1122 M189.600,1119.600 H206.400 L238,1136
M566.400,949.300 H542.600 L524,1013.900 M596,949.300 H574.800 L529.900,1057 M629.200,949.300 H607.700 L562.100,1057 M672.300,949.300 H655.100 L595.800,1029.100 M739.500,949.300 H716.700 L711.600,1021.500 M776.200,949.300 H754.200 L740.700,1019
M677.400,997.400 H655.900 L600.100,1072.200 M677.400,1036.200 H655.900 L638.100,1110.200 M677.400,1119.800 H655.100 L620.400,1140.600 M677.400,1150.800 H655.100 L583.600,1171 M677.400,1181.700 H655.100 L602.600,1178.600 M677.400,1212.800 H655.100 L607.700,1187.500
M197,1268.4 H176 L171,1224 M247,1268.4 H223 L216,1216 M303,1268.4 H279 L267,1187 M355,1268.4 H331 L318,1209 M399,1268.4 H374 L360,1190 M433,1268.4 H410 L382,1183
M502.4,1269.7 H477.3 L464.3,1183.9 M542.3,1269.7 H518.9 L509.3,1228 M598.6,1269.7 H576.9 L552.7,1161.3 M639.3,1269.7 H615 L596.9,1213.3 M675.7,1269.7 H655 L627.2,1208.1
M568.400,1154.600 H545.100 L539.300,1117.800 M605.200,1154.600 H583.100 L578.600,1127.900"/>
</g>

<!-- 84_labels_e.svg -->
<g id="labels_e">
<g class="dg" stroke-width="2.10"><path transform="translate(1255.10,629.20) scale(1.100,0.978)" d="M7.6,0 L0.8,0 L0,8 C1.5,6.8 2.6,6.4 4,6.4 C6.6,6.4 8,8.2 8,12.2 C8,16.2 6.6,18 4,18 C1.4,18 0,16.6 0,14.2"/><path transform="translate(1267.90,629.20) scale(1.100,0.978)" d="M0,0 L8,0 L2.6,18"/></g><g class="dg" stroke-width="2.10"><path transform="translate(1255.10,666.70) scale(1.100,0.978)" d="M7.6,0 L0.8,0 L0,8 C1.5,6.8 2.6,6.4 4,6.4 C6.6,6.4 8,8.2 8,12.2 C8,16.2 6.6,18 4,18 C1.4,18 0,16.6 0,14.2"/><path transform="translate(1267.90,666.70) scale(1.100,0.978)" d="M6.6,0 C2.5,2.6 0,6.5 0,12.4 C0,16.4 1.4,18 4,18 C6.6,18 8,16.4 8,12.6 C8,9 6.6,7.2 4,7.2 C1.8,7.2 0.4,8.6 0,11.4"/></g><g class="dg" stroke-width="2.10"><path transform="translate(1255.10,745.20) scale(1.100,0.978)" d="M7.6,0 L0.8,0 L0,8 C1.5,6.8 2.6,6.4 4,6.4 C6.6,6.4 8,8.2 8,12.2 C8,16.2 6.6,18 4,18 C1.4,18 0,16.6 0,14.2"/><path transform="translate(1267.90,745.20) scale(1.100,0.978)" d="M7.6,0 L0.8,0 L0,8 C1.5,6.8 2.6,6.4 4,6.4 C6.6,6.4 8,8.2 8,12.2 C8,16.2 6.6,18 4,18 C1.4,18 0,16.6 0,14.2"/></g><g class="dg" stroke-width="2.10"><path transform="translate(1255.10,853.20) scale(1.100,0.978)" d="M7.6,0 L0.8,0 L0,8 C1.5,6.8 2.6,6.4 4,6.4 C6.6,6.4 8,8.2 8,12.2 C8,16.2 6.6,18 4,18 C1.4,18 0,16.6 0,14.2"/><path transform="translate(1267.90,853.20) scale(1.100,0.978)" d="M6,0 L0,12.6 L9.8,12.6 M7.2,7.5 L7.2,18"/></g><g class="dg" stroke-width="2.10"><path transform="translate(1255.10,997.70) scale(1.100,0.978)" d="M7.6,0 L0.8,0 L0,8 C1.5,6.8 2.6,6.4 4,6.4 C6.6,6.4 8,8.2 8,12.2 C8,16.2 6.6,18 4,18 C1.4,18 0,16.6 0,14.2"/><path transform="translate(1267.90,997.70) scale(1.100,0.978)" d="M0,4 C0,1.4 1.4,0 4,0 C6.6,0 8,1.4 8,4 C8,6.5 6.5,8.5 0,18 L8,18"/></g>
<g class="dg" stroke-width="2.10"><path transform="translate(1084.10,690.70) scale(1.100,0.978)" d="M7.6,0 L0.8,0 L0,8 C1.5,6.8 2.6,6.4 4,6.4 C6.6,6.4 8,8.2 8,12.2 C8,16.2 6.6,18 4,18 C1.4,18 0,16.6 0,14.2"/><path transform="translate(1096.90,690.70) scale(1.100,0.978)" d="M0,0 L8,0 L3.4,7.2 C6.6,7.2 8,9 8,12.6 C8,16.4 6.6,18 4,18 C1.4,18 0,16.6 0,14.2"/></g><g class="dg" stroke-width="2.10"><path transform="translate(983.70,734.70) scale(1.100,0.978)" d="M0,5 L4,0 L4,18"/></g><g class="dg" stroke-width="2.10"><path transform="translate(1082.60,997.70) scale(1.100,0.978)" d="M7.6,0 L0.8,0 L0,8 C1.5,6.8 2.6,6.4 4,6.4 C6.6,6.4 8,8.2 8,12.2 C8,16.2 6.6,18 4,18 C1.4,18 0,16.6 0,14.2"/><path transform="translate(1095.40,997.70) scale(1.100,0.978)" d="M0,5 L4,0 L4,18"/></g>
<path class="ld" d="M1276.200,652.500 H1254.200 L1222.500,614.900 M1276.200,689.700 H1254.200 L1221.100,653.100 M1276.200,768.900 H1254.200 L1231.300,716.100 M1277,876 H1254.200 L1213.700,805.600 M1277,1020.600 H1254.200 L1165.300,925.900
M1083.200,713.200 H1105.800 L1109.600,758.700 M982,757.200 H989.300 L1006.900,795.300 M1103.700,1020.600 H1081.700 L1014.300,955.200"/>
</g>

</g>
<!-- 00_footer.svg -->
<g id="footer">
<rect x="0" y="1370.4" width="1500" height="1.3" fill="#1a1a1a"/>
<rect x="31" y="1406" width="215" height="60" fill="#808084"/>
<g fill="#fff">
<path d="M66.7,1417.2 L85.4,1436 L66.7,1454.8 L48,1436 Z" stroke="#fff" stroke-width="1.5" stroke-linejoin="round"/>
</g>
<path d="M55,1428.6 H68.5 Q75,1428.6 75,1432.3 Q75,1435 72.6,1436 Q75,1437 75,1439.8 Q75,1443.6 68.5,1443.6 H55 Z" fill="#808084"/>
<g stroke="#fff" stroke-width="2.9" stroke-linecap="round">
<path d="M48.6,1432.1 H69.5 M48.6,1436.2 H69.5 M48.6,1440.2 H69.5"/>
</g>
<g fill="#fff">
<!-- Ze -->
<path d="M96,1422 H118.5 Q124.4,1422 124.4,1428 V1443 Q124.4,1449 118.5,1449 H97.5 L94,1445.5 V1442 H116.2 V1439.7 H104 V1430 H116.2 V1428.3 H94 V1424 Q94,1422 96,1422 Z"/>
<!-- U -->
<path d="M130,1422 H136.7 V1432.6 H150.7 V1422 H157.3 V1443 Q157.3,1449 151.5,1449 H131.5 L128,1445.5 V1442 H150.7 V1439.6 H134 Q128,1439.6 128,1434 V1424 Q128,1422 130,1422 Z"/>
<!-- Be -->
<path d="M166,1422 H192 V1428.3 H172 V1430 H189.5 Q195.3,1430 195.3,1436 V1443 Q195.3,1449 189.5,1449 H166 Q164,1449 164,1447 V1424 Q164,1422 166,1422 Z M172,1438 V1442 H187.3 V1438 Z" fill-rule="evenodd"/>
<!-- R -->
<path d="M200.7,1422 H225 Q230.7,1422 230.7,1428 V1433.6 Q230.7,1439.6 225,1439.6 H207.3 V1449 H198.7 V1424 Q198.7,1422 200.7,1422 Z M207.3,1428.3 V1433.3 H222.7 V1428.3 Z" fill-rule="evenodd"/>
</g>
<text x="290" y="1450" font-family="Liberation Sans, sans-serif" font-size="37" fill="#111" textLength="260" lengthAdjust="spacingAndGlyphs">ПБЦ-М370 35П.</text>
<text x="559" y="1450" font-family="Liberation Sans, sans-serif" font-size="37" fill="#333" stroke="#fff" stroke-width="0.9" paint-order="fill stroke" textLength="477" lengthAdjust="spacingAndGlyphs">Схема 1-1 (Схема-состав. Корпус)</text>
</g>

</svg>
</body></html>
